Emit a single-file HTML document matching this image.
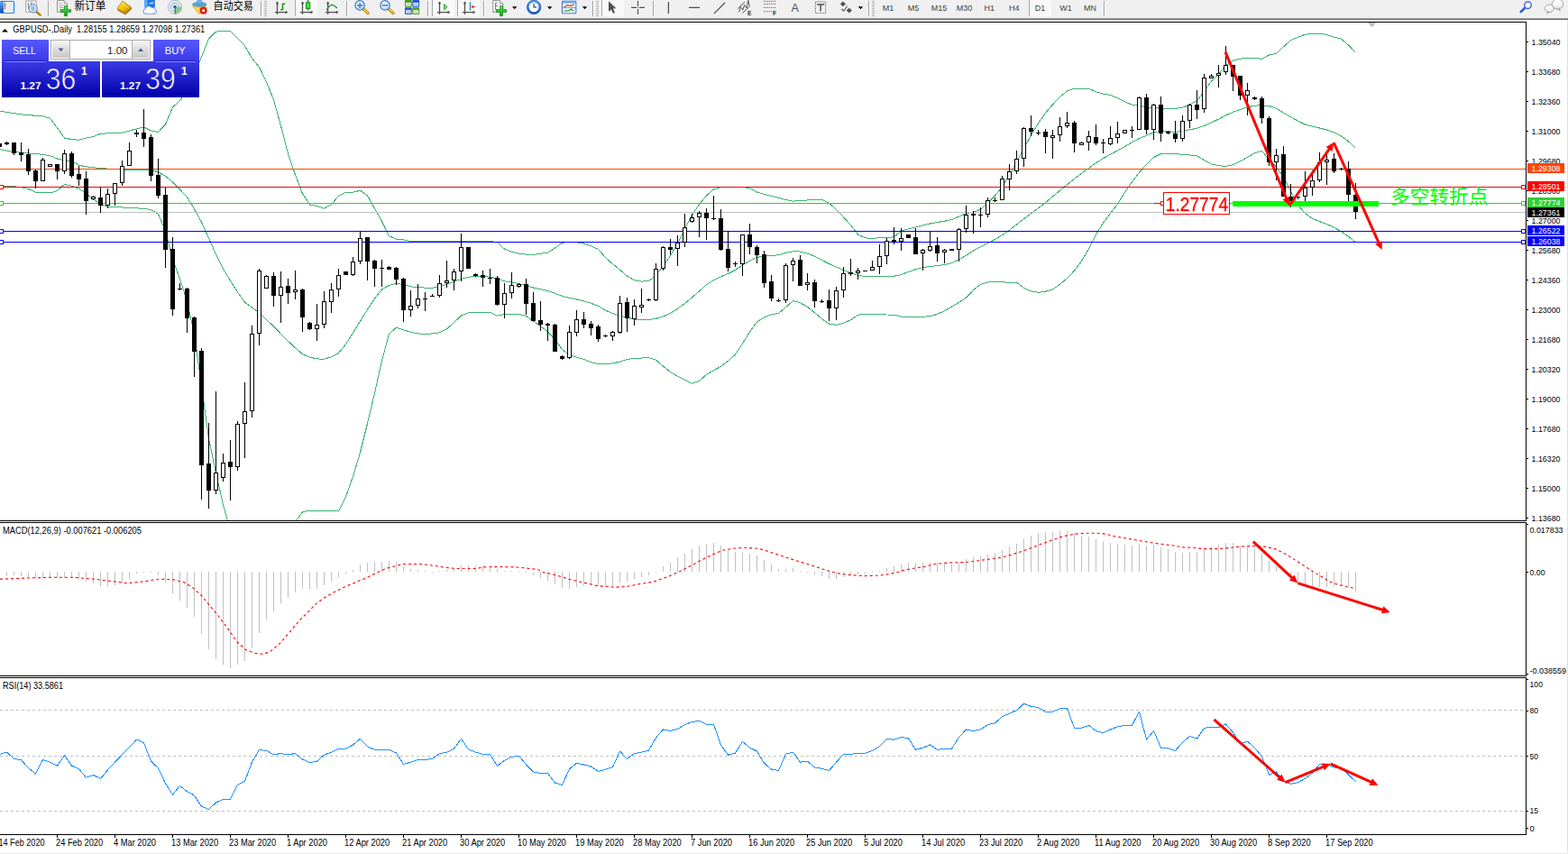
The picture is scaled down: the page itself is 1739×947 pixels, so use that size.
<!DOCTYPE html>
<html><head><meta charset="utf-8"><title>GBPUSD Daily</title>
<style>
html,body{margin:0;padding:0;background:#fff;}
body{width:1739px;height:947px;overflow:hidden;position:relative;font-family:"Liberation Sans",sans-serif;}
svg{position:absolute;left:0;top:0;display:block;}
svg text{font-family:"Liberation Sans",sans-serif;}
</style></head><body>
<svg width="1739" height="947" viewBox="0 0 1739 947">
<rect x="0" y="0" width="1739" height="947" fill="#fff"/>
<defs>
<linearGradient id="gb" x1="0" y1="0" x2="0" y2="1"><stop offset="0" stop-color="#5858ff"/><stop offset="0.38" stop-color="#3a3ae6"/><stop offset="1" stop-color="#0000aa"/></linearGradient>
<linearGradient id="gbu" gradientUnits="userSpaceOnUse" x1="0" y1="44" x2="0" y2="108"><stop offset="0" stop-color="#5858ff"/><stop offset="0.38" stop-color="#3a3ae6"/><stop offset="1" stop-color="#0000aa"/></linearGradient>
<linearGradient id="gbtn" x1="0" y1="0" x2="0" y2="1"><stop offset="0" stop-color="#f4f4f4"/><stop offset="0.5" stop-color="#dcdcdc"/><stop offset="1" stop-color="#c8c8c8"/></linearGradient>
<clipPath id="cmain"><rect x="0" y="25" width="1692" height="552"/></clipPath>
</defs>
<g clip-path="url(#cmain)">
<polyline points="0.0,123.2 7.5,124.5 15.5,125.7 23.5,126.8 31.5,127.7 39.5,128.2 47.5,128.9 55.5,131.2 63.5,141.7 71.5,153.0 79.5,154.6 87.5,155.2 95.5,153.1 103.5,151.6 111.5,148.2 119.5,147.9 127.5,147.7 135.5,147.1 143.5,145.2 151.5,142.8 159.5,141.1 167.5,144.9 175.5,146.4 183.5,137.8 191.5,119.0 199.5,111.6 207.5,100.9 215.5,83.8 223.5,62.9 231.5,43.0 239.5,35.2 247.5,34.4 255.5,34.4 263.5,42.3 271.5,50.8 279.5,64.7 287.5,74.4 295.5,91.0 303.5,110.5 311.5,139.5 319.5,170.3 327.5,194.0 335.5,214.7 343.5,227.0 351.5,228.5 359.5,231.1 367.5,226.7 375.5,217.3 383.5,213.4 391.5,213.2 399.5,211.3 407.5,216.9 415.5,231.3 423.5,245.4 431.5,261.8 439.5,265.1 447.5,265.9 455.5,267.5 463.5,267.7 471.5,267.8 479.5,267.9 487.5,267.9 495.5,267.9 503.5,267.9 511.5,267.8 519.5,267.7 527.5,267.6 535.5,267.5 543.5,267.4 551.5,268.7 559.5,276.1 567.5,279.3 575.5,281.1 583.5,282.1 591.5,282.3 599.5,281.3 607.5,280.1 615.5,275.1 623.5,269.2 631.5,268.5 639.5,268.8 647.5,270.0 655.5,272.8 663.5,276.4 671.5,285.5 679.5,292.7 687.5,299.2 695.5,306.1 703.5,310.8 711.5,312.1 719.5,311.7 727.5,305.0 735.5,295.2 743.5,283.5 751.5,269.9 759.5,254.1 767.5,238.5 775.5,226.7 783.5,216.9 791.5,209.9 799.5,207.6 807.5,207.6 815.5,207.6 823.5,207.6 831.5,208.6 839.5,213.0 847.5,215.5 855.5,217.4 863.5,219.3 871.5,221.6 879.5,223.1 887.5,222.7 895.5,222.0 903.5,221.6 911.5,221.4 919.5,225.2 927.5,232.4 935.5,240.8 943.5,249.5 951.5,260.2 959.5,263.8 967.5,264.4 975.5,263.7 983.5,263.8 991.5,262.6 999.5,256.1 1007.5,253.8 1015.5,251.8 1023.5,249.8 1031.5,248.0 1039.5,246.5 1047.5,245.2 1055.5,243.6 1063.5,240.1 1071.5,236.8 1079.5,235.1 1087.5,232.3 1095.5,224.8 1103.5,217.0 1111.5,207.2 1119.5,194.3 1127.5,179.7 1135.5,164.6 1143.5,150.1 1151.5,136.7 1159.5,125.5 1167.5,115.9 1175.5,107.4 1183.5,101.0 1191.5,98.2 1199.5,98.2 1207.5,98.2 1215.5,101.8 1223.5,104.1 1231.5,105.5 1239.5,108.6 1247.5,112.7 1255.5,116.4 1263.5,116.5 1271.5,119.0 1279.5,119.3 1287.5,120.0 1295.5,120.3 1303.5,120.3 1311.5,119.4 1319.5,115.7 1327.5,111.8 1335.5,101.0 1343.5,90.2 1351.5,82.4 1359.5,72.6 1367.5,67.2 1375.5,65.2 1383.5,64.4 1391.5,64.2 1399.5,65.3 1407.5,61.0 1415.5,59.2 1423.5,51.8 1431.5,44.7 1439.5,41.2 1447.5,38.3 1455.5,37.3 1463.5,37.2 1471.5,38.4 1479.5,41.2 1487.5,43.2 1495.5,50.0 1502.7,57.6" fill="none" stroke="#3cb371" stroke-width="1.0" stroke-linejoin="round" shape-rendering="crispEdges"/>
<polyline points="0.0,165.5 7.5,167.2 15.5,168.5 23.5,169.2 31.5,169.9 39.5,170.6 47.5,171.4 55.5,172.7 63.5,176.0 71.5,177.8 79.5,178.5 87.5,183.2 95.5,184.8 103.5,185.8 111.5,186.5 119.5,187.1 127.5,187.6 135.5,188.1 143.5,188.4 151.5,188.6 159.5,188.6 167.5,188.7 175.5,190.8 183.5,195.3 191.5,202.0 199.5,210.1 207.5,218.6 215.5,231.6 223.5,246.4 231.5,264.1 239.5,282.3 247.5,298.2 255.5,311.4 263.5,324.0 271.5,335.2 279.5,340.9 287.5,346.9 295.5,354.3 303.5,362.1 311.5,370.2 319.5,378.3 327.5,385.8 335.5,392.7 343.5,396.1 351.5,397.9 359.5,398.2 367.5,395.8 375.5,391.5 383.5,381.7 391.5,369.0 399.5,356.2 407.5,343.3 415.5,331.1 423.5,320.8 431.5,316.4 439.5,314.5 447.5,315.4 455.5,317.9 463.5,318.7 471.5,319.1 479.5,319.2 487.5,318.0 495.5,315.2 503.5,312.4 511.5,309.3 519.5,307.3 527.5,306.2 535.5,306.4 543.5,307.2 551.5,308.8 559.5,311.8 567.5,313.1 575.5,314.5 583.5,316.8 591.5,319.0 599.5,320.7 607.5,322.5 615.5,325.3 623.5,328.3 631.5,330.3 639.5,332.0 647.5,333.9 655.5,336.2 663.5,339.3 671.5,344.2 679.5,347.5 687.5,350.0 695.5,352.1 703.5,353.9 711.5,355.0 719.5,354.5 727.5,353.3 735.5,350.9 743.5,347.3 751.5,342.3 759.5,336.6 767.5,329.9 775.5,323.0 783.5,315.8 791.5,310.6 799.5,306.9 807.5,303.5 815.5,299.5 823.5,294.0 831.5,289.1 839.5,285.5 847.5,283.5 855.5,283.3 863.5,282.9 871.5,280.2 879.5,278.9 887.5,279.0 895.5,281.1 903.5,284.1 911.5,288.4 919.5,292.5 927.5,296.1 935.5,299.5 943.5,302.7 951.5,305.4 959.5,306.5 967.5,306.5 975.5,306.5 983.5,306.4 991.5,306.2 999.5,304.7 1007.5,301.4 1015.5,298.7 1023.5,296.7 1031.5,295.5 1039.5,294.6 1047.5,293.6 1055.5,291.7 1063.5,288.1 1071.5,283.3 1079.5,278.0 1087.5,273.8 1095.5,269.9 1103.5,265.4 1111.5,260.6 1119.5,255.2 1127.5,249.0 1135.5,242.7 1143.5,236.7 1151.5,230.8 1159.5,224.6 1167.5,217.9 1175.5,211.2 1183.5,204.7 1191.5,198.4 1199.5,192.3 1207.5,186.4 1215.5,180.6 1223.5,175.6 1231.5,171.2 1239.5,166.9 1247.5,162.7 1255.5,157.8 1263.5,153.5 1271.5,150.3 1279.5,146.6 1287.5,145.5 1295.5,145.7 1303.5,146.5 1311.5,145.4 1319.5,143.8 1327.5,142.2 1335.5,139.5 1343.5,135.9 1351.5,132.1 1359.5,127.9 1367.5,124.3 1375.5,121.4 1383.5,118.9 1391.5,117.1 1399.5,116.8 1407.5,117.7 1415.5,120.2 1423.5,125.2 1431.5,129.8 1439.5,134.1 1447.5,138.0 1455.5,140.2 1463.5,142.0 1471.5,144.0 1479.5,146.8 1487.5,150.9 1495.5,156.8 1502.8,163.8" fill="none" stroke="#3cb371" stroke-width="1.0" stroke-linejoin="round" shape-rendering="crispEdges"/>
<polyline points="0.0,206.5 7.5,206.6 15.5,206.8 23.5,207.6 31.5,209.6 39.5,213.2 47.5,214.0 55.5,213.9 63.5,211.6 71.5,204.4 79.5,206.1 87.5,209.2 95.5,214.5 103.5,220.8 111.5,226.6 119.5,229.2 127.5,229.7 135.5,230.0 143.5,230.3 151.5,230.8 159.5,231.4 167.5,232.5 175.5,237.4 183.5,255.7 191.5,287.5 199.5,309.1 207.5,334.5 215.5,370.3 223.5,428.1 231.5,486.3 239.5,524.5 247.5,560.0 252.6,578.0" fill="none" stroke="#3cb371" stroke-width="1.0" stroke-linejoin="round" shape-rendering="crispEdges"/>
<polyline points="327.7,578.0 335.5,567.9 343.5,566.0 351.5,566.0 359.5,566.0 367.5,566.0 375.5,567.0 383.5,550.8 391.5,528.3 399.5,501.6 407.5,469.5 415.5,436.2 423.5,400.1 431.5,370.3 439.5,363.2 447.5,365.8 455.5,368.2 463.5,369.9 471.5,370.4 479.5,369.9 487.5,368.8 495.5,364.8 503.5,357.7 511.5,350.0 519.5,346.9 527.5,346.4 535.5,346.4 543.5,346.4 551.5,350.1 559.5,348.5 567.5,348.5 575.5,348.5 583.5,350.4 591.5,356.1 599.5,361.7 607.5,367.8 615.5,376.1 623.5,387.6 631.5,393.3 639.5,396.2 647.5,398.5 655.5,401.6 663.5,403.7 671.5,403.5 679.5,402.9 687.5,401.1 695.5,398.6 703.5,397.2 711.5,397.1 719.5,396.3 727.5,399.3 735.5,406.1 743.5,412.5 751.5,417.2 759.5,421.2 767.5,425.2 775.5,422.4 783.5,415.3 791.5,410.7 799.5,406.3 807.5,400.3 815.5,393.0 823.5,381.0 831.5,368.1 839.5,357.1 847.5,351.8 855.5,348.8 863.5,347.4 871.5,340.7 879.5,333.5 887.5,335.8 895.5,340.3 903.5,346.7 911.5,353.5 919.5,359.1 927.5,360.3 935.5,358.3 943.5,354.7 951.5,349.2 959.5,348.2 967.5,348.2 975.5,348.8 983.5,349.0 991.5,349.1 999.5,351.1 1007.5,351.4 1015.5,351.2 1023.5,351.1 1031.5,350.9 1039.5,348.4 1047.5,344.8 1055.5,340.1 1063.5,335.4 1071.5,330.2 1079.5,321.7 1087.5,315.4 1095.5,313.1 1103.5,312.3 1111.5,312.8 1119.5,313.3 1127.5,313.3 1135.5,319.2 1143.5,323.0 1151.5,324.3 1159.5,323.3 1167.5,320.9 1175.5,315.4 1183.5,308.6 1191.5,300.1 1199.5,289.4 1207.5,276.0 1215.5,260.0 1223.5,247.1 1231.5,236.4 1239.5,226.2 1247.5,213.5 1255.5,201.7 1263.5,191.2 1271.5,182.5 1279.5,174.5 1287.5,170.5 1295.5,170.5 1303.5,170.6 1311.5,171.3 1319.5,172.0 1327.5,172.7 1335.5,177.7 1343.5,181.8 1351.5,183.7 1359.5,184.4 1367.5,182.8 1375.5,178.9 1383.5,174.2 1391.5,169.8 1399.5,167.2 1407.5,177.0 1415.5,185.2 1423.5,196.3 1431.5,211.9 1439.5,227.6 1447.5,236.5 1455.5,242.4 1463.5,245.6 1471.5,248.6 1479.5,252.3 1487.5,256.7 1495.5,262.3 1502.5,268.0" fill="none" stroke="#3cb371" stroke-width="1.0" stroke-linejoin="round" shape-rendering="crispEdges"/>
</g>
<g shape-rendering="crispEdges">
<rect x="0" y="187" width="1692" height="1" fill="#ff4500" />
<rect x="0" y="207" width="1692" height="1" fill="#ff0000" />
<rect x="0" y="225" width="1692" height="1" fill="#32cd32" />
<rect x="0" y="235" width="1692" height="1" fill="#c0c0c0" />
<rect x="0" y="256" width="1692" height="1" fill="#0000ff" />
<rect x="0" y="268" width="1692" height="1" fill="#0000ff" />
</g>
<g shape-rendering="crispEdges">
<rect x="-1" y="159" width="1" height="4" fill="#000" />
<rect x="-3" y="159" width="5" height="4" fill="#000" />
<rect x="7" y="157" width="1" height="4" fill="#000" />
<rect x="5" y="158" width="5" height="2" fill="#000" />
<rect x="15" y="158" width="1" height="14" fill="#000" />
<rect x="13" y="158" width="5" height="12" fill="#000" />
<rect x="23" y="158" width="1" height="21" fill="#000" />
<rect x="21" y="169" width="5" height="3" fill="#000" />
<rect x="31" y="165" width="1" height="29" fill="#000" />
<rect x="29" y="171" width="5" height="19" fill="#000" />
<rect x="39" y="188" width="1" height="21" fill="#000" />
<rect x="37" y="189" width="5" height="12" fill="#000" />
<rect x="47" y="175" width="1" height="26" fill="#000" />
<rect x="45" y="177" width="5" height="24" fill="#000" />
<rect x="46" y="178" width="3" height="22" fill="#fff" />
<rect x="55" y="182" width="1" height="3" fill="#000" />
<rect x="53" y="182" width="5" height="3" fill="#000" />
<rect x="54" y="183" width="3" height="1" fill="#fff" />
<rect x="63" y="182" width="1" height="17" fill="#000" />
<rect x="61" y="182" width="5" height="8" fill="#000" />
<rect x="71" y="166" width="1" height="27" fill="#000" />
<rect x="69" y="170" width="5" height="20" fill="#000" />
<rect x="70" y="171" width="3" height="18" fill="#fff" />
<rect x="79" y="168" width="1" height="29" fill="#000" />
<rect x="77" y="170" width="5" height="25" fill="#000" />
<rect x="87" y="184" width="1" height="22" fill="#000" />
<rect x="85" y="193" width="5" height="6" fill="#000" />
<rect x="95" y="190" width="1" height="48" fill="#000" />
<rect x="93" y="198" width="5" height="25" fill="#000" />
<rect x="103" y="217" width="1" height="5" fill="#000" />
<rect x="101" y="218" width="5" height="2" fill="#000" />
<rect x="101" y="218" width="5" height="3" fill="#000" />
<rect x="102" y="219" width="3" height="1" fill="#fff" />
<rect x="111" y="207" width="1" height="29" fill="#000" />
<rect x="109" y="219" width="5" height="9" fill="#000" />
<rect x="119" y="209" width="1" height="22" fill="#000" />
<rect x="117" y="215" width="5" height="13" fill="#000" />
<rect x="118" y="216" width="3" height="11" fill="#fff" />
<rect x="127" y="203" width="1" height="25" fill="#000" />
<rect x="125" y="203" width="5" height="12" fill="#000" />
<rect x="126" y="204" width="3" height="10" fill="#fff" />
<rect x="135" y="178" width="1" height="28" fill="#000" />
<rect x="133" y="184" width="5" height="19" fill="#000" />
<rect x="134" y="185" width="3" height="17" fill="#fff" />
<rect x="143" y="158" width="1" height="26" fill="#000" />
<rect x="141" y="167" width="5" height="17" fill="#000" />
<rect x="142" y="168" width="3" height="15" fill="#fff" />
<rect x="151" y="144" width="1" height="8" fill="#000" />
<rect x="149" y="147" width="5" height="2" fill="#000" />
<rect x="159" y="121" width="1" height="42" fill="#000" />
<rect x="157" y="147" width="5" height="7" fill="#000" />
<rect x="167" y="149" width="1" height="52" fill="#000" />
<rect x="165" y="152" width="5" height="43" fill="#000" />
<rect x="175" y="176" width="1" height="44" fill="#000" />
<rect x="173" y="194" width="5" height="23" fill="#000" />
<rect x="183" y="208" width="1" height="89" fill="#000" />
<rect x="181" y="216" width="5" height="61" fill="#000" />
<rect x="191" y="263" width="1" height="87" fill="#000" />
<rect x="189" y="276" width="5" height="67" fill="#000" />
<rect x="199" y="314" width="1" height="8" fill="#000" />
<rect x="197" y="320" width="5" height="1" fill="#000" />
<rect x="207" y="319" width="1" height="50" fill="#000" />
<rect x="205" y="320" width="5" height="33" fill="#000" />
<rect x="215" y="351" width="1" height="67" fill="#000" />
<rect x="213" y="352" width="5" height="38" fill="#000" />
<rect x="223" y="386" width="1" height="168" fill="#000" />
<rect x="221" y="389" width="5" height="127" fill="#000" />
<rect x="231" y="469" width="1" height="95" fill="#000" />
<rect x="229" y="514" width="5" height="30" fill="#000" />
<rect x="239" y="434" width="1" height="114" fill="#000" />
<rect x="237" y="524" width="5" height="20" fill="#000" />
<rect x="238" y="525" width="3" height="18" fill="#fff" />
<rect x="247" y="503" width="1" height="31" fill="#000" />
<rect x="245" y="513" width="5" height="17" fill="#000" />
<rect x="246" y="514" width="3" height="15" fill="#fff" />
<rect x="255" y="488" width="1" height="67" fill="#000" />
<rect x="253" y="512" width="5" height="6" fill="#000" />
<rect x="263" y="467" width="1" height="55" fill="#000" />
<rect x="261" y="470" width="5" height="48" fill="#000" />
<rect x="262" y="471" width="3" height="46" fill="#fff" />
<rect x="271" y="424" width="1" height="84" fill="#000" />
<rect x="269" y="456" width="5" height="14" fill="#000" />
<rect x="270" y="457" width="3" height="12" fill="#fff" />
<rect x="279" y="361" width="1" height="102" fill="#000" />
<rect x="277" y="370" width="5" height="86" fill="#000" />
<rect x="278" y="371" width="3" height="84" fill="#fff" />
<rect x="287" y="298" width="1" height="85" fill="#000" />
<rect x="285" y="300" width="5" height="70" fill="#000" />
<rect x="286" y="301" width="3" height="68" fill="#fff" />
<rect x="295" y="305" width="1" height="15" fill="#000" />
<rect x="293" y="306" width="5" height="14" fill="#000" />
<rect x="294" y="307" width="3" height="12" fill="#fff" />
<rect x="303" y="302" width="1" height="38" fill="#000" />
<rect x="301" y="306" width="5" height="22" fill="#000" />
<rect x="311" y="301" width="1" height="57" fill="#000" />
<rect x="309" y="318" width="5" height="10" fill="#000" />
<rect x="310" y="319" width="3" height="8" fill="#fff" />
<rect x="319" y="309" width="1" height="28" fill="#000" />
<rect x="317" y="317" width="5" height="8" fill="#000" />
<rect x="327" y="300" width="1" height="32" fill="#000" />
<rect x="325" y="321" width="5" height="3" fill="#000" />
<rect x="326" y="322" width="3" height="1" fill="#fff" />
<rect x="335" y="320" width="1" height="48" fill="#000" />
<rect x="333" y="321" width="5" height="31" fill="#000" />
<rect x="343" y="357" width="1" height="9" fill="#000" />
<rect x="341" y="358" width="5" height="7" fill="#000" />
<rect x="351" y="337" width="1" height="41" fill="#000" />
<rect x="349" y="360" width="5" height="5" fill="#000" />
<rect x="350" y="361" width="3" height="3" fill="#fff" />
<rect x="359" y="323" width="1" height="41" fill="#000" />
<rect x="357" y="334" width="5" height="26" fill="#000" />
<rect x="358" y="335" width="3" height="24" fill="#fff" />
<rect x="367" y="314" width="1" height="33" fill="#000" />
<rect x="365" y="321" width="5" height="14" fill="#000" />
<rect x="366" y="322" width="3" height="12" fill="#fff" />
<rect x="375" y="298" width="1" height="31" fill="#000" />
<rect x="373" y="305" width="5" height="16" fill="#000" />
<rect x="374" y="306" width="3" height="14" fill="#fff" />
<rect x="383" y="301" width="1" height="4" fill="#000" />
<rect x="381" y="301" width="5" height="4" fill="#000" />
<rect x="391" y="285" width="1" height="21" fill="#000" />
<rect x="389" y="290" width="5" height="15" fill="#000" />
<rect x="390" y="291" width="3" height="13" fill="#fff" />
<rect x="399" y="257" width="1" height="36" fill="#000" />
<rect x="397" y="264" width="5" height="26" fill="#000" />
<rect x="398" y="265" width="3" height="24" fill="#fff" />
<rect x="407" y="263" width="1" height="48" fill="#000" />
<rect x="405" y="263" width="5" height="27" fill="#000" />
<rect x="415" y="288" width="1" height="30" fill="#000" />
<rect x="413" y="289" width="5" height="9" fill="#000" />
<rect x="423" y="288" width="1" height="30" fill="#000" />
<rect x="421" y="297" width="5" height="1" fill="#000" />
<rect x="431" y="295" width="1" height="4" fill="#000" />
<rect x="429" y="296" width="5" height="3" fill="#000" />
<rect x="439" y="296" width="1" height="20" fill="#000" />
<rect x="437" y="297" width="5" height="13" fill="#000" />
<rect x="447" y="308" width="1" height="49" fill="#000" />
<rect x="445" y="309" width="5" height="35" fill="#000" />
<rect x="455" y="322" width="1" height="29" fill="#000" />
<rect x="453" y="339" width="5" height="5" fill="#000" />
<rect x="454" y="340" width="3" height="3" fill="#fff" />
<rect x="463" y="315" width="1" height="27" fill="#000" />
<rect x="461" y="331" width="5" height="8" fill="#000" />
<rect x="462" y="332" width="3" height="6" fill="#fff" />
<rect x="471" y="324" width="1" height="21" fill="#000" />
<rect x="469" y="331" width="5" height="1" fill="#000" />
<rect x="479" y="326" width="1" height="3" fill="#000" />
<rect x="477" y="328" width="5" height="1" fill="#000" />
<rect x="487" y="305" width="1" height="25" fill="#000" />
<rect x="485" y="314" width="5" height="14" fill="#000" />
<rect x="486" y="315" width="3" height="12" fill="#fff" />
<rect x="495" y="289" width="1" height="30" fill="#000" />
<rect x="493" y="311" width="5" height="3" fill="#000" />
<rect x="494" y="312" width="3" height="1" fill="#fff" />
<rect x="503" y="298" width="1" height="24" fill="#000" />
<rect x="501" y="301" width="5" height="10" fill="#000" />
<rect x="502" y="302" width="3" height="8" fill="#fff" />
<rect x="511" y="259" width="1" height="53" fill="#000" />
<rect x="509" y="274" width="5" height="27" fill="#000" />
<rect x="510" y="275" width="3" height="25" fill="#fff" />
<rect x="519" y="274" width="1" height="24" fill="#000" />
<rect x="517" y="274" width="5" height="24" fill="#000" />
<rect x="527" y="303" width="1" height="4" fill="#000" />
<rect x="525" y="304" width="5" height="2" fill="#000" />
<rect x="535" y="300" width="1" height="18" fill="#000" />
<rect x="533" y="305" width="5" height="3" fill="#000" />
<rect x="543" y="298" width="1" height="17" fill="#000" />
<rect x="541" y="308" width="5" height="1" fill="#000" />
<rect x="551" y="306" width="1" height="33" fill="#000" />
<rect x="549" y="308" width="5" height="30" fill="#000" />
<rect x="559" y="314" width="1" height="39" fill="#000" />
<rect x="557" y="325" width="5" height="13" fill="#000" />
<rect x="558" y="326" width="3" height="11" fill="#fff" />
<rect x="567" y="302" width="1" height="29" fill="#000" />
<rect x="565" y="316" width="5" height="9" fill="#000" />
<rect x="566" y="317" width="3" height="7" fill="#fff" />
<rect x="575" y="314" width="1" height="5" fill="#000" />
<rect x="573" y="315" width="5" height="3" fill="#000" />
<rect x="574" y="316" width="3" height="1" fill="#fff" />
<rect x="583" y="309" width="1" height="40" fill="#000" />
<rect x="581" y="315" width="5" height="22" fill="#000" />
<rect x="591" y="324" width="1" height="32" fill="#000" />
<rect x="589" y="336" width="5" height="20" fill="#000" />
<rect x="599" y="334" width="1" height="33" fill="#000" />
<rect x="597" y="355" width="5" height="5" fill="#000" />
<rect x="607" y="358" width="1" height="20" fill="#000" />
<rect x="605" y="359" width="5" height="2" fill="#000" />
<rect x="615" y="359" width="1" height="31" fill="#000" />
<rect x="613" y="360" width="5" height="30" fill="#000" />
<rect x="623" y="394" width="1" height="5" fill="#000" />
<rect x="621" y="395" width="5" height="3" fill="#000" />
<rect x="631" y="361" width="1" height="37" fill="#000" />
<rect x="629" y="368" width="5" height="29" fill="#000" />
<rect x="630" y="369" width="3" height="27" fill="#fff" />
<rect x="639" y="344" width="1" height="29" fill="#000" />
<rect x="637" y="354" width="5" height="15" fill="#000" />
<rect x="638" y="355" width="3" height="13" fill="#fff" />
<rect x="647" y="346" width="1" height="18" fill="#000" />
<rect x="645" y="354" width="5" height="6" fill="#000" />
<rect x="655" y="356" width="1" height="16" fill="#000" />
<rect x="653" y="359" width="5" height="5" fill="#000" />
<rect x="663" y="360" width="1" height="19" fill="#000" />
<rect x="661" y="362" width="5" height="14" fill="#000" />
<rect x="671" y="371" width="1" height="3" fill="#000" />
<rect x="669" y="372" width="5" height="1" fill="#000" />
<rect x="679" y="367" width="1" height="11" fill="#000" />
<rect x="677" y="368" width="5" height="5" fill="#000" />
<rect x="678" y="369" width="3" height="3" fill="#fff" />
<rect x="687" y="328" width="1" height="42" fill="#000" />
<rect x="685" y="336" width="5" height="33" fill="#000" />
<rect x="686" y="337" width="3" height="31" fill="#fff" />
<rect x="695" y="330" width="1" height="38" fill="#000" />
<rect x="693" y="335" width="5" height="18" fill="#000" />
<rect x="703" y="332" width="1" height="29" fill="#000" />
<rect x="701" y="339" width="5" height="15" fill="#000" />
<rect x="702" y="340" width="3" height="13" fill="#fff" />
<rect x="711" y="320" width="1" height="27" fill="#000" />
<rect x="709" y="338" width="5" height="2" fill="#000" />
<rect x="709" y="338" width="5" height="3" fill="#000" />
<rect x="710" y="339" width="3" height="1" fill="#fff" />
<rect x="719" y="331" width="1" height="3" fill="#000" />
<rect x="717" y="332" width="5" height="1" fill="#000" />
<rect x="727" y="292" width="1" height="42" fill="#000" />
<rect x="725" y="298" width="5" height="35" fill="#000" />
<rect x="726" y="299" width="3" height="33" fill="#fff" />
<rect x="735" y="273" width="1" height="27" fill="#000" />
<rect x="733" y="274" width="5" height="24" fill="#000" />
<rect x="734" y="275" width="3" height="22" fill="#fff" />
<rect x="743" y="265" width="1" height="17" fill="#000" />
<rect x="741" y="274" width="5" height="3" fill="#000" />
<rect x="751" y="261" width="1" height="34" fill="#000" />
<rect x="749" y="269" width="5" height="7" fill="#000" />
<rect x="750" y="270" width="3" height="5" fill="#fff" />
<rect x="759" y="237" width="1" height="37" fill="#000" />
<rect x="757" y="252" width="5" height="17" fill="#000" />
<rect x="758" y="253" width="3" height="15" fill="#fff" />
<rect x="767" y="237" width="1" height="10" fill="#000" />
<rect x="765" y="241" width="5" height="5" fill="#000" />
<rect x="766" y="242" width="3" height="3" fill="#fff" />
<rect x="775" y="234" width="1" height="29" fill="#000" />
<rect x="773" y="236" width="5" height="5" fill="#000" />
<rect x="774" y="237" width="3" height="3" fill="#fff" />
<rect x="783" y="231" width="1" height="35" fill="#000" />
<rect x="781" y="236" width="5" height="6" fill="#000" />
<rect x="791" y="217" width="1" height="27" fill="#000" />
<rect x="789" y="242" width="5" height="1" fill="#000" />
<rect x="799" y="232" width="1" height="46" fill="#000" />
<rect x="797" y="242" width="5" height="35" fill="#000" />
<rect x="807" y="256" width="1" height="45" fill="#000" />
<rect x="805" y="276" width="5" height="21" fill="#000" />
<rect x="815" y="290" width="1" height="6" fill="#000" />
<rect x="813" y="292" width="5" height="1" fill="#000" />
<rect x="823" y="260" width="1" height="46" fill="#000" />
<rect x="821" y="260" width="5" height="33" fill="#000" />
<rect x="822" y="261" width="3" height="31" fill="#fff" />
<rect x="831" y="248" width="1" height="34" fill="#000" />
<rect x="829" y="260" width="5" height="14" fill="#000" />
<rect x="839" y="272" width="1" height="20" fill="#000" />
<rect x="837" y="274" width="5" height="9" fill="#000" />
<rect x="847" y="278" width="1" height="41" fill="#000" />
<rect x="845" y="282" width="5" height="32" fill="#000" />
<rect x="855" y="305" width="1" height="29" fill="#000" />
<rect x="853" y="312" width="5" height="19" fill="#000" />
<rect x="863" y="331" width="1" height="4" fill="#000" />
<rect x="861" y="333" width="5" height="1" fill="#000" />
<rect x="871" y="292" width="1" height="44" fill="#000" />
<rect x="869" y="294" width="5" height="39" fill="#000" />
<rect x="870" y="295" width="3" height="37" fill="#fff" />
<rect x="879" y="286" width="1" height="26" fill="#000" />
<rect x="877" y="289" width="5" height="5" fill="#000" />
<rect x="878" y="290" width="3" height="3" fill="#fff" />
<rect x="887" y="283" width="1" height="34" fill="#000" />
<rect x="885" y="288" width="5" height="29" fill="#000" />
<rect x="895" y="303" width="1" height="19" fill="#000" />
<rect x="893" y="313" width="5" height="2" fill="#000" />
<rect x="893" y="313" width="5" height="3" fill="#000" />
<rect x="894" y="314" width="3" height="1" fill="#fff" />
<rect x="903" y="310" width="1" height="31" fill="#000" />
<rect x="901" y="313" width="5" height="21" fill="#000" />
<rect x="911" y="332" width="1" height="4" fill="#000" />
<rect x="909" y="334" width="5" height="1" fill="#000" />
<rect x="919" y="321" width="1" height="35" fill="#000" />
<rect x="917" y="333" width="5" height="9" fill="#000" />
<rect x="927" y="318" width="1" height="37" fill="#000" />
<rect x="925" y="322" width="5" height="20" fill="#000" />
<rect x="926" y="323" width="3" height="18" fill="#fff" />
<rect x="935" y="296" width="1" height="34" fill="#000" />
<rect x="933" y="303" width="5" height="19" fill="#000" />
<rect x="934" y="304" width="3" height="17" fill="#fff" />
<rect x="943" y="287" width="1" height="19" fill="#000" />
<rect x="941" y="302" width="5" height="2" fill="#000" />
<rect x="951" y="297" width="1" height="13" fill="#000" />
<rect x="949" y="300" width="5" height="2" fill="#000" />
<rect x="949" y="300" width="5" height="3" fill="#000" />
<rect x="950" y="301" width="3" height="1" fill="#fff" />
<rect x="959" y="300" width="1" height="1" fill="#000" />
<rect x="957" y="300" width="5" height="1" fill="#000" />
<rect x="967" y="289" width="1" height="11" fill="#000" />
<rect x="965" y="296" width="5" height="4" fill="#000" />
<rect x="966" y="297" width="3" height="2" fill="#fff" />
<rect x="975" y="271" width="1" height="33" fill="#000" />
<rect x="973" y="284" width="5" height="12" fill="#000" />
<rect x="974" y="285" width="3" height="10" fill="#fff" />
<rect x="983" y="264" width="1" height="29" fill="#000" />
<rect x="981" y="267" width="5" height="17" fill="#000" />
<rect x="982" y="268" width="3" height="15" fill="#fff" />
<rect x="991" y="252" width="1" height="19" fill="#000" />
<rect x="989" y="266" width="5" height="2" fill="#000" />
<rect x="999" y="253" width="1" height="25" fill="#000" />
<rect x="997" y="264" width="5" height="4" fill="#000" />
<rect x="998" y="265" width="3" height="2" fill="#fff" />
<rect x="1007" y="260" width="1" height="4" fill="#000" />
<rect x="1005" y="260" width="5" height="4" fill="#000" />
<rect x="1015" y="253" width="1" height="29" fill="#000" />
<rect x="1013" y="263" width="5" height="19" fill="#000" />
<rect x="1023" y="276" width="1" height="24" fill="#000" />
<rect x="1021" y="277" width="5" height="4" fill="#000" />
<rect x="1022" y="278" width="3" height="2" fill="#fff" />
<rect x="1031" y="257" width="1" height="22" fill="#000" />
<rect x="1029" y="273" width="5" height="5" fill="#000" />
<rect x="1030" y="274" width="3" height="3" fill="#fff" />
<rect x="1039" y="263" width="1" height="27" fill="#000" />
<rect x="1037" y="272" width="5" height="9" fill="#000" />
<rect x="1047" y="276" width="1" height="16" fill="#000" />
<rect x="1045" y="277" width="5" height="3" fill="#000" />
<rect x="1046" y="278" width="3" height="1" fill="#fff" />
<rect x="1055" y="276" width="1" height="2" fill="#000" />
<rect x="1053" y="276" width="5" height="2" fill="#000" />
<rect x="1063" y="253" width="1" height="37" fill="#000" />
<rect x="1061" y="254" width="5" height="23" fill="#000" />
<rect x="1062" y="255" width="3" height="21" fill="#fff" />
<rect x="1071" y="228" width="1" height="30" fill="#000" />
<rect x="1069" y="238" width="5" height="16" fill="#000" />
<rect x="1070" y="239" width="3" height="14" fill="#fff" />
<rect x="1079" y="234" width="1" height="25" fill="#000" />
<rect x="1077" y="237" width="5" height="2" fill="#000" />
<rect x="1087" y="230" width="1" height="22" fill="#000" />
<rect x="1085" y="238" width="5" height="1" fill="#000" />
<rect x="1095" y="219" width="1" height="22" fill="#000" />
<rect x="1093" y="222" width="5" height="16" fill="#000" />
<rect x="1094" y="223" width="3" height="14" fill="#fff" />
<rect x="1103" y="219" width="1" height="5" fill="#000" />
<rect x="1101" y="222" width="5" height="1" fill="#000" />
<rect x="1111" y="195" width="1" height="27" fill="#000" />
<rect x="1109" y="198" width="5" height="24" fill="#000" />
<rect x="1110" y="199" width="3" height="22" fill="#fff" />
<rect x="1119" y="182" width="1" height="29" fill="#000" />
<rect x="1117" y="190" width="5" height="9" fill="#000" />
<rect x="1118" y="191" width="3" height="7" fill="#fff" />
<rect x="1127" y="167" width="1" height="26" fill="#000" />
<rect x="1125" y="176" width="5" height="14" fill="#000" />
<rect x="1126" y="177" width="3" height="12" fill="#fff" />
<rect x="1135" y="141" width="1" height="44" fill="#000" />
<rect x="1133" y="142" width="5" height="34" fill="#000" />
<rect x="1134" y="143" width="3" height="32" fill="#fff" />
<rect x="1143" y="128" width="1" height="23" fill="#000" />
<rect x="1141" y="142" width="5" height="4" fill="#000" />
<rect x="1151" y="144" width="1" height="6" fill="#000" />
<rect x="1149" y="147" width="5" height="1" fill="#000" />
<rect x="1159" y="143" width="1" height="27" fill="#000" />
<rect x="1157" y="146" width="5" height="6" fill="#000" />
<rect x="1167" y="144" width="1" height="32" fill="#000" />
<rect x="1165" y="150" width="5" height="2" fill="#000" />
<rect x="1165" y="150" width="5" height="3" fill="#000" />
<rect x="1166" y="151" width="3" height="1" fill="#fff" />
<rect x="1175" y="130" width="1" height="27" fill="#000" />
<rect x="1173" y="140" width="5" height="10" fill="#000" />
<rect x="1174" y="141" width="3" height="8" fill="#fff" />
<rect x="1183" y="124" width="1" height="18" fill="#000" />
<rect x="1181" y="136" width="5" height="4" fill="#000" />
<rect x="1182" y="137" width="3" height="2" fill="#fff" />
<rect x="1191" y="134" width="1" height="35" fill="#000" />
<rect x="1189" y="136" width="5" height="23" fill="#000" />
<rect x="1199" y="157" width="1" height="4" fill="#000" />
<rect x="1197" y="158" width="5" height="3" fill="#000" />
<rect x="1198" y="159" width="3" height="1" fill="#fff" />
<rect x="1207" y="145" width="1" height="22" fill="#000" />
<rect x="1205" y="151" width="5" height="7" fill="#000" />
<rect x="1206" y="152" width="3" height="5" fill="#fff" />
<rect x="1215" y="138" width="1" height="23" fill="#000" />
<rect x="1213" y="152" width="5" height="7" fill="#000" />
<rect x="1223" y="154" width="1" height="16" fill="#000" />
<rect x="1221" y="158" width="5" height="1" fill="#000" />
<rect x="1231" y="140" width="1" height="21" fill="#000" />
<rect x="1229" y="153" width="5" height="7" fill="#000" />
<rect x="1230" y="154" width="3" height="5" fill="#fff" />
<rect x="1239" y="135" width="1" height="24" fill="#000" />
<rect x="1237" y="148" width="5" height="5" fill="#000" />
<rect x="1238" y="149" width="3" height="3" fill="#fff" />
<rect x="1247" y="144" width="1" height="4" fill="#000" />
<rect x="1245" y="144" width="5" height="4" fill="#000" />
<rect x="1246" y="145" width="3" height="2" fill="#fff" />
<rect x="1255" y="140" width="1" height="13" fill="#000" />
<rect x="1253" y="144" width="5" height="1" fill="#000" />
<rect x="1263" y="107" width="1" height="37" fill="#000" />
<rect x="1261" y="108" width="5" height="36" fill="#000" />
<rect x="1262" y="109" width="3" height="34" fill="#fff" />
<rect x="1271" y="104" width="1" height="45" fill="#000" />
<rect x="1269" y="108" width="5" height="36" fill="#000" />
<rect x="1279" y="115" width="1" height="40" fill="#000" />
<rect x="1277" y="116" width="5" height="28" fill="#000" />
<rect x="1278" y="117" width="3" height="26" fill="#fff" />
<rect x="1287" y="107" width="1" height="50" fill="#000" />
<rect x="1285" y="116" width="5" height="32" fill="#000" />
<rect x="1295" y="145" width="1" height="4" fill="#000" />
<rect x="1293" y="146" width="5" height="2" fill="#000" />
<rect x="1303" y="134" width="1" height="24" fill="#000" />
<rect x="1301" y="148" width="5" height="6" fill="#000" />
<rect x="1311" y="128" width="1" height="29" fill="#000" />
<rect x="1309" y="134" width="5" height="20" fill="#000" />
<rect x="1310" y="135" width="3" height="18" fill="#fff" />
<rect x="1319" y="115" width="1" height="27" fill="#000" />
<rect x="1317" y="116" width="5" height="18" fill="#000" />
<rect x="1318" y="117" width="3" height="16" fill="#fff" />
<rect x="1327" y="100" width="1" height="32" fill="#000" />
<rect x="1325" y="116" width="5" height="6" fill="#000" />
<rect x="1335" y="82" width="1" height="43" fill="#000" />
<rect x="1333" y="86" width="5" height="35" fill="#000" />
<rect x="1334" y="87" width="3" height="33" fill="#fff" />
<rect x="1343" y="82" width="1" height="4" fill="#000" />
<rect x="1341" y="84" width="5" height="2" fill="#000" />
<rect x="1341" y="84" width="5" height="3" fill="#000" />
<rect x="1342" y="85" width="3" height="1" fill="#fff" />
<rect x="1351" y="72" width="1" height="25" fill="#000" />
<rect x="1349" y="81" width="5" height="3" fill="#000" />
<rect x="1350" y="82" width="3" height="1" fill="#fff" />
<rect x="1359" y="51" width="1" height="32" fill="#000" />
<rect x="1357" y="72" width="5" height="8" fill="#000" />
<rect x="1358" y="73" width="3" height="6" fill="#fff" />
<rect x="1367" y="72" width="1" height="29" fill="#000" />
<rect x="1365" y="72" width="5" height="13" fill="#000" />
<rect x="1375" y="84" width="1" height="27" fill="#000" />
<rect x="1373" y="84" width="5" height="22" fill="#000" />
<rect x="1383" y="92" width="1" height="36" fill="#000" />
<rect x="1381" y="100" width="5" height="6" fill="#000" />
<rect x="1382" y="101" width="3" height="4" fill="#fff" />
<rect x="1391" y="107" width="1" height="4" fill="#000" />
<rect x="1389" y="108" width="5" height="2" fill="#000" />
<rect x="1399" y="107" width="1" height="30" fill="#000" />
<rect x="1397" y="109" width="5" height="22" fill="#000" />
<rect x="1407" y="129" width="1" height="55" fill="#000" />
<rect x="1405" y="131" width="5" height="49" fill="#000" />
<rect x="1415" y="165" width="1" height="35" fill="#000" />
<rect x="1413" y="172" width="5" height="8" fill="#000" />
<rect x="1414" y="173" width="3" height="6" fill="#fff" />
<rect x="1423" y="162" width="1" height="56" fill="#000" />
<rect x="1421" y="171" width="5" height="47" fill="#000" />
<rect x="1431" y="204" width="1" height="26" fill="#000" />
<rect x="1429" y="218" width="5" height="6" fill="#000" />
<rect x="1439" y="218" width="1" height="3" fill="#000" />
<rect x="1437" y="218" width="5" height="1" fill="#000" />
<rect x="1447" y="190" width="1" height="33" fill="#000" />
<rect x="1445" y="208" width="5" height="10" fill="#000" />
<rect x="1446" y="209" width="3" height="8" fill="#fff" />
<rect x="1455" y="189" width="1" height="28" fill="#000" />
<rect x="1453" y="200" width="5" height="8" fill="#000" />
<rect x="1454" y="201" width="3" height="6" fill="#fff" />
<rect x="1463" y="169" width="1" height="33" fill="#000" />
<rect x="1461" y="180" width="5" height="20" fill="#000" />
<rect x="1462" y="181" width="3" height="18" fill="#fff" />
<rect x="1471" y="171" width="1" height="34" fill="#000" />
<rect x="1469" y="177" width="5" height="3" fill="#000" />
<rect x="1470" y="178" width="3" height="1" fill="#fff" />
<rect x="1479" y="170" width="1" height="22" fill="#000" />
<rect x="1477" y="176" width="5" height="14" fill="#000" />
<rect x="1487" y="186" width="1" height="3" fill="#000" />
<rect x="1485" y="187" width="5" height="1" fill="#000" />
<rect x="1495" y="179" width="1" height="44" fill="#000" />
<rect x="1493" y="187" width="5" height="29" fill="#000" />
<rect x="1503" y="203" width="1" height="40" fill="#000" />
<rect x="1501" y="216" width="5" height="19" fill="#000" />
<rect x="-1" y="205" width="5" height="5" fill="#ff0000" />
<rect x="0" y="206" width="3" height="3" fill="#fff" />
<rect x="1687" y="205" width="5" height="5" fill="#ff0000" />
<rect x="1688" y="206" width="3" height="3" fill="#fff" />
<rect x="-1" y="223" width="5" height="5" fill="#32cd32" />
<rect x="0" y="224" width="3" height="3" fill="#fff" />
<rect x="1687" y="223" width="5" height="5" fill="#32cd32" />
<rect x="1688" y="224" width="3" height="3" fill="#fff" />
<rect x="-1" y="254" width="5" height="5" fill="#0000ff" />
<rect x="0" y="255" width="3" height="3" fill="#fff" />
<rect x="1687" y="254" width="5" height="5" fill="#0000ff" />
<rect x="1688" y="255" width="3" height="3" fill="#fff" />
<rect x="-1" y="266" width="5" height="5" fill="#0000ff" />
<rect x="0" y="267" width="3" height="3" fill="#fff" />
<rect x="1687" y="266" width="5" height="5" fill="#0000ff" />
<rect x="1688" y="267" width="3" height="3" fill="#fff" />
</g>
<g shape-rendering="crispEdges">
<rect x="1367" y="223" width="162" height="6" fill="#00ff00" />
<rect x="1280" y="225" width="10" height="1" fill="#ff0000" />
<rect x="1287" y="223" width="3" height="5" fill="#ff0000" />
<rect x="1288" y="224" width="2" height="3" fill="#fff" />
<rect x="1290" y="213" width="74" height="25" fill="#ff0000" />
<rect x="1291" y="214" width="72" height="23" fill="#fff" />
</g>
<text x="1292.7" y="233.8" font-size="22" fill="#ff0000" textLength="69.5" lengthAdjust="spacingAndGlyphs" stroke="#ff0000" stroke-width="0.3">1.27774</text>
<text x="1542" y="224.5" font-size="21" fill="#00ff00" textLength="108.5" lengthAdjust="spacingAndGlyphs" style="font-family:'Liberation Sans','Noto Sans CJK SC',sans-serif;">多空转折点</text>
<g shape-rendering="crispEdges">
<rect x="7" y="634" width="1" height="5" fill="#c0c0c0" />
<rect x="15" y="634" width="1" height="4" fill="#c0c0c0" />
<rect x="23" y="634" width="1" height="5" fill="#c0c0c0" />
<rect x="31" y="634" width="1" height="6" fill="#c0c0c0" />
<rect x="39" y="634" width="1" height="7" fill="#c0c0c0" />
<rect x="47" y="634" width="1" height="7" fill="#c0c0c0" />
<rect x="55" y="634" width="1" height="7" fill="#c0c0c0" />
<rect x="63" y="634" width="1" height="7" fill="#c0c0c0" />
<rect x="71" y="634" width="1" height="7" fill="#c0c0c0" />
<rect x="79" y="634" width="1" height="7" fill="#c0c0c0" />
<rect x="87" y="634" width="1" height="8" fill="#c0c0c0" />
<rect x="95" y="634" width="1" height="11" fill="#c0c0c0" />
<rect x="103" y="634" width="1" height="13" fill="#c0c0c0" />
<rect x="111" y="634" width="1" height="16" fill="#c0c0c0" />
<rect x="119" y="634" width="1" height="16" fill="#c0c0c0" />
<rect x="127" y="634" width="1" height="15" fill="#c0c0c0" />
<rect x="135" y="634" width="1" height="12" fill="#c0c0c0" />
<rect x="143" y="634" width="1" height="8" fill="#c0c0c0" />
<rect x="151" y="634" width="1" height="2" fill="#c0c0c0" />
<rect x="159" y="634" width="1" height="1" fill="#c0c0c0" />
<rect x="167" y="634" width="1" height="1" fill="#c0c0c0" />
<rect x="175" y="634" width="1" height="4" fill="#c0c0c0" />
<rect x="183" y="634" width="1" height="12" fill="#c0c0c0" />
<rect x="191" y="634" width="1" height="24" fill="#c0c0c0" />
<rect x="199" y="634" width="1" height="32" fill="#c0c0c0" />
<rect x="207" y="634" width="1" height="40" fill="#c0c0c0" />
<rect x="215" y="634" width="1" height="50" fill="#c0c0c0" />
<rect x="223" y="634" width="1" height="69" fill="#c0c0c0" />
<rect x="231" y="634" width="1" height="86" fill="#c0c0c0" />
<rect x="239" y="634" width="1" height="97" fill="#c0c0c0" />
<rect x="247" y="634" width="1" height="103" fill="#c0c0c0" />
<rect x="255" y="634" width="1" height="107" fill="#c0c0c0" />
<rect x="263" y="634" width="1" height="103" fill="#c0c0c0" />
<rect x="271" y="634" width="1" height="99" fill="#c0c0c0" />
<rect x="279" y="634" width="1" height="85" fill="#c0c0c0" />
<rect x="287" y="634" width="1" height="68" fill="#c0c0c0" />
<rect x="295" y="634" width="1" height="54" fill="#c0c0c0" />
<rect x="303" y="634" width="1" height="44" fill="#c0c0c0" />
<rect x="311" y="634" width="1" height="35" fill="#c0c0c0" />
<rect x="319" y="634" width="1" height="29" fill="#c0c0c0" />
<rect x="327" y="634" width="1" height="23" fill="#c0c0c0" />
<rect x="335" y="634" width="1" height="19" fill="#c0c0c0" />
<rect x="343" y="634" width="1" height="19" fill="#c0c0c0" />
<rect x="351" y="634" width="1" height="19" fill="#c0c0c0" />
<rect x="359" y="634" width="1" height="15" fill="#c0c0c0" />
<rect x="367" y="634" width="1" height="11" fill="#c0c0c0" />
<rect x="375" y="634" width="1" height="6" fill="#c0c0c0" />
<rect x="383" y="634" width="1" height="2" fill="#c0c0c0" />
<rect x="391" y="632" width="1" height="2" fill="#c0c0c0" />
<rect x="399" y="626" width="1" height="8" fill="#c0c0c0" />
<rect x="407" y="624" width="1" height="10" fill="#c0c0c0" />
<rect x="415" y="623" width="1" height="11" fill="#c0c0c0" />
<rect x="423" y="623" width="1" height="11" fill="#c0c0c0" />
<rect x="431" y="622" width="1" height="12" fill="#c0c0c0" />
<rect x="439" y="623" width="1" height="11" fill="#c0c0c0" />
<rect x="447" y="628" width="1" height="6" fill="#c0c0c0" />
<rect x="455" y="631" width="1" height="3" fill="#c0c0c0" />
<rect x="463" y="632" width="1" height="2" fill="#c0c0c0" />
<rect x="471" y="633" width="1" height="1" fill="#c0c0c0" />
<rect x="479" y="634" width="1" height="1" fill="#c0c0c0" />
<rect x="487" y="633" width="1" height="1" fill="#c0c0c0" />
<rect x="495" y="632" width="1" height="2" fill="#c0c0c0" />
<rect x="503" y="630" width="1" height="4" fill="#c0c0c0" />
<rect x="511" y="627" width="1" height="7" fill="#c0c0c0" />
<rect x="519" y="627" width="1" height="7" fill="#c0c0c0" />
<rect x="527" y="627" width="1" height="7" fill="#c0c0c0" />
<rect x="535" y="627" width="1" height="7" fill="#c0c0c0" />
<rect x="543" y="630" width="1" height="4" fill="#c0c0c0" />
<rect x="551" y="631" width="1" height="3" fill="#c0c0c0" />
<rect x="559" y="633" width="1" height="1" fill="#c0c0c0" />
<rect x="567" y="633" width="1" height="1" fill="#c0c0c0" />
<rect x="575" y="633" width="1" height="1" fill="#c0c0c0" />
<rect x="583" y="634" width="1" height="1" fill="#c0c0c0" />
<rect x="591" y="634" width="1" height="4" fill="#c0c0c0" />
<rect x="599" y="634" width="1" height="7" fill="#c0c0c0" />
<rect x="607" y="634" width="1" height="10" fill="#c0c0c0" />
<rect x="615" y="634" width="1" height="14" fill="#c0c0c0" />
<rect x="623" y="634" width="1" height="18" fill="#c0c0c0" />
<rect x="631" y="634" width="1" height="19" fill="#c0c0c0" />
<rect x="639" y="634" width="1" height="17" fill="#c0c0c0" />
<rect x="647" y="634" width="1" height="16" fill="#c0c0c0" />
<rect x="655" y="634" width="1" height="15" fill="#c0c0c0" />
<rect x="663" y="634" width="1" height="16" fill="#c0c0c0" />
<rect x="671" y="634" width="1" height="16" fill="#c0c0c0" />
<rect x="679" y="634" width="1" height="16" fill="#c0c0c0" />
<rect x="687" y="634" width="1" height="12" fill="#c0c0c0" />
<rect x="695" y="634" width="1" height="11" fill="#c0c0c0" />
<rect x="703" y="634" width="1" height="8" fill="#c0c0c0" />
<rect x="711" y="634" width="1" height="6" fill="#c0c0c0" />
<rect x="719" y="634" width="1" height="4" fill="#c0c0c0" />
<rect x="727" y="634" width="1" height="1" fill="#c0c0c0" />
<rect x="735" y="628" width="1" height="6" fill="#c0c0c0" />
<rect x="743" y="624" width="1" height="10" fill="#c0c0c0" />
<rect x="751" y="618" width="1" height="16" fill="#c0c0c0" />
<rect x="759" y="614" width="1" height="20" fill="#c0c0c0" />
<rect x="767" y="609" width="1" height="25" fill="#c0c0c0" />
<rect x="775" y="605" width="1" height="29" fill="#c0c0c0" />
<rect x="783" y="603" width="1" height="31" fill="#c0c0c0" />
<rect x="791" y="602" width="1" height="32" fill="#c0c0c0" />
<rect x="799" y="605" width="1" height="29" fill="#c0c0c0" />
<rect x="807" y="609" width="1" height="25" fill="#c0c0c0" />
<rect x="815" y="612" width="1" height="22" fill="#c0c0c0" />
<rect x="823" y="612" width="1" height="22" fill="#c0c0c0" />
<rect x="831" y="614" width="1" height="20" fill="#c0c0c0" />
<rect x="839" y="616" width="1" height="18" fill="#c0c0c0" />
<rect x="847" y="621" width="1" height="13" fill="#c0c0c0" />
<rect x="855" y="626" width="1" height="8" fill="#c0c0c0" />
<rect x="863" y="631" width="1" height="3" fill="#c0c0c0" />
<rect x="871" y="631" width="1" height="3" fill="#c0c0c0" />
<rect x="879" y="630" width="1" height="4" fill="#c0c0c0" />
<rect x="887" y="633" width="1" height="1" fill="#c0c0c0" />
<rect x="895" y="634" width="1" height="1" fill="#c0c0c0" />
<rect x="903" y="634" width="1" height="3" fill="#c0c0c0" />
<rect x="911" y="634" width="1" height="5" fill="#c0c0c0" />
<rect x="919" y="634" width="1" height="8" fill="#c0c0c0" />
<rect x="927" y="634" width="1" height="8" fill="#c0c0c0" />
<rect x="935" y="634" width="1" height="6" fill="#c0c0c0" />
<rect x="943" y="634" width="1" height="4" fill="#c0c0c0" />
<rect x="951" y="634" width="1" height="3" fill="#c0c0c0" />
<rect x="959" y="634" width="1" height="2" fill="#c0c0c0" />
<rect x="967" y="634" width="1" height="1" fill="#c0c0c0" />
<rect x="975" y="633" width="1" height="1" fill="#c0c0c0" />
<rect x="983" y="630" width="1" height="4" fill="#c0c0c0" />
<rect x="991" y="628" width="1" height="6" fill="#c0c0c0" />
<rect x="999" y="626" width="1" height="8" fill="#c0c0c0" />
<rect x="1007" y="624" width="1" height="10" fill="#c0c0c0" />
<rect x="1015" y="624" width="1" height="10" fill="#c0c0c0" />
<rect x="1023" y="624" width="1" height="10" fill="#c0c0c0" />
<rect x="1031" y="624" width="1" height="10" fill="#c0c0c0" />
<rect x="1039" y="624" width="1" height="10" fill="#c0c0c0" />
<rect x="1047" y="625" width="1" height="9" fill="#c0c0c0" />
<rect x="1055" y="626" width="1" height="8" fill="#c0c0c0" />
<rect x="1063" y="624" width="1" height="10" fill="#c0c0c0" />
<rect x="1071" y="620" width="1" height="14" fill="#c0c0c0" />
<rect x="1079" y="618" width="1" height="16" fill="#c0c0c0" />
<rect x="1087" y="617" width="1" height="17" fill="#c0c0c0" />
<rect x="1095" y="615" width="1" height="19" fill="#c0c0c0" />
<rect x="1103" y="613" width="1" height="21" fill="#c0c0c0" />
<rect x="1111" y="610" width="1" height="24" fill="#c0c0c0" />
<rect x="1119" y="606" width="1" height="28" fill="#c0c0c0" />
<rect x="1127" y="603" width="1" height="31" fill="#c0c0c0" />
<rect x="1135" y="597" width="1" height="37" fill="#c0c0c0" />
<rect x="1143" y="594" width="1" height="40" fill="#c0c0c0" />
<rect x="1151" y="591" width="1" height="43" fill="#c0c0c0" />
<rect x="1159" y="590" width="1" height="44" fill="#c0c0c0" />
<rect x="1167" y="590" width="1" height="44" fill="#c0c0c0" />
<rect x="1175" y="589" width="1" height="45" fill="#c0c0c0" />
<rect x="1183" y="589" width="1" height="45" fill="#c0c0c0" />
<rect x="1191" y="591" width="1" height="43" fill="#c0c0c0" />
<rect x="1199" y="594" width="1" height="40" fill="#c0c0c0" />
<rect x="1207" y="595" width="1" height="39" fill="#c0c0c0" />
<rect x="1215" y="598" width="1" height="36" fill="#c0c0c0" />
<rect x="1223" y="600" width="1" height="34" fill="#c0c0c0" />
<rect x="1231" y="602" width="1" height="32" fill="#c0c0c0" />
<rect x="1239" y="603" width="1" height="31" fill="#c0c0c0" />
<rect x="1247" y="604" width="1" height="30" fill="#c0c0c0" />
<rect x="1255" y="605" width="1" height="29" fill="#c0c0c0" />
<rect x="1263" y="603" width="1" height="31" fill="#c0c0c0" />
<rect x="1271" y="605" width="1" height="29" fill="#c0c0c0" />
<rect x="1279" y="604" width="1" height="30" fill="#c0c0c0" />
<rect x="1287" y="607" width="1" height="27" fill="#c0c0c0" />
<rect x="1295" y="609" width="1" height="25" fill="#c0c0c0" />
<rect x="1303" y="612" width="1" height="22" fill="#c0c0c0" />
<rect x="1311" y="613" width="1" height="21" fill="#c0c0c0" />
<rect x="1319" y="612" width="1" height="22" fill="#c0c0c0" />
<rect x="1327" y="612" width="1" height="22" fill="#c0c0c0" />
<rect x="1335" y="609" width="1" height="25" fill="#c0c0c0" />
<rect x="1343" y="606" width="1" height="28" fill="#c0c0c0" />
<rect x="1351" y="604" width="1" height="30" fill="#c0c0c0" />
<rect x="1359" y="602" width="1" height="32" fill="#c0c0c0" />
<rect x="1367" y="602" width="1" height="32" fill="#c0c0c0" />
<rect x="1375" y="605" width="1" height="29" fill="#c0c0c0" />
<rect x="1383" y="606" width="1" height="28" fill="#c0c0c0" />
<rect x="1391" y="609" width="1" height="25" fill="#c0c0c0" />
<rect x="1399" y="613" width="1" height="21" fill="#c0c0c0" />
<rect x="1407" y="622" width="1" height="12" fill="#c0c0c0" />
<rect x="1415" y="628" width="1" height="6" fill="#c0c0c0" />
<rect x="1423" y="633" width="1" height="1" fill="#c0c0c0" />
<rect x="1431" y="634" width="1" height="6" fill="#c0c0c0" />
<rect x="1439" y="634" width="1" height="11" fill="#c0c0c0" />
<rect x="1447" y="634" width="1" height="14" fill="#c0c0c0" />
<rect x="1455" y="634" width="1" height="16" fill="#c0c0c0" />
<rect x="1463" y="634" width="1" height="17" fill="#c0c0c0" />
<rect x="1471" y="634" width="1" height="17" fill="#c0c0c0" />
<rect x="1479" y="634" width="1" height="16" fill="#c0c0c0" />
<rect x="1487" y="634" width="1" height="16" fill="#c0c0c0" />
<rect x="1495" y="634" width="1" height="17" fill="#c0c0c0" />
<rect x="1503" y="634" width="1" height="22" fill="#c0c0c0" />
</g>
<polyline points="0.0,642.2 30.3,641.0 60.5,640.2 80.7,640.2 104.9,642.2 121.0,644.2 141.2,646.7 161.4,644.6 175.5,642.2 191.6,642.6 203.8,645.6 213.8,651.7 223.9,660.8 232.0,670.9 242.1,683.0 254.2,699.1 262.3,711.2 272.3,720.3 282.4,724.3 290.5,725.3 298.6,723.3 310.7,713.2 322.8,699.1 334.9,685.0 340.0,680.5 350.2,669.9 358.2,663.8 370.3,656.7 382.5,650.7 394.6,645.6 406.7,640.6 416.7,635.6 428.9,630.1 438.9,627.5 447.0,625.5 467.2,625.5 483.3,627.5 491.4,628.9 505.5,630.5 527.7,630.5 535.8,628.9 551.9,628.5 572.1,628.9 584.2,630.1 596.3,631.5 602.3,634.6 612.4,636.6 622.5,639.6 632.6,642.6 640.7,644.6 652.8,647.3 662.9,649.7 677.0,650.7 680.2,651.3 696.3,650.3 708.4,647.7 724.6,645.2 740.7,639.6 752.8,634.2 764.9,628.1 777.0,621.4 789.1,615.4 801.2,610.3 813.3,608.3 825.4,607.3 841.6,608.3 853.7,612.0 869.8,617.4 881.9,621.4 894.0,624.9 906.1,628.9 918.2,632.9 928.3,635.6 942.4,637.6 958.6,638.6 974.7,638.2 986.8,636.6 998.9,633.5 1006.1,631.5 1024.3,628.5 1036.4,625.5 1052.5,623.9 1070.7,623.5 1082.8,622.0 1094.9,620.4 1109.0,618.4 1121.1,615.4 1133.2,611.4 1143.3,607.7 1155.4,602.9 1167.5,598.6 1179.6,594.6 1191.7,592.2 1203.8,591.2 1215.9,591.2 1226.0,592.2 1238.1,595.2 1252.3,597.6 1268.4,600.3 1280.5,602.3 1298.7,604.7 1312.8,606.9 1321.2,607.3 1334.5,608.6 1351.3,608.6 1365.8,607.3 1375.4,606.1 1392.3,605.4 1401.9,606.1 1414.0,608.6 1426.0,614.6 1435.7,620.6 1445.3,626.6 1454.9,633.1 1464.6,638.7 1474.2,644.7 1483.9,648.3 1493.5,650.7 1503.1,652.4" fill="none" stroke="#ff0000" stroke-width="1.1" stroke-dasharray="3 3"/>
<g shape-rendering="crispEdges">
<line x1="0" y1="787.5" x2="1692" y2="787.5" stroke="#c0c0c0" stroke-width="1" stroke-dasharray="3 3"/>
<line x1="0" y1="838.5" x2="1692" y2="838.5" stroke="#c0c0c0" stroke-width="1" stroke-dasharray="3 3"/>
<line x1="0" y1="899.5" x2="1692" y2="899.5" stroke="#c0c0c0" stroke-width="1" stroke-dasharray="3 3"/>
</g>
<polyline points="-0.5,836.3 7.5,834.1 15.5,841.4 23.5,842.7 31.5,851.6 39.5,858.0 47.5,842.5 55.5,845.2 63.5,849.1 71.5,837.8 79.5,849.1 87.5,852.7 95.5,862.3 103.5,859.5 111.5,863.4 119.5,853.8 127.5,845.2 135.5,836.7 143.5,828.6 151.5,820.1 159.5,823.5 167.5,844.2 175.5,851.6 183.5,868.7 191.5,881.1 199.5,871.5 207.5,877.7 215.5,882.1 223.5,894.3 231.5,897.5 239.5,890.0 247.5,886.2 255.5,886.2 263.5,870.2 271.5,866.1 279.5,845.2 287.5,831.4 295.5,832.4 303.5,836.7 311.5,835.6 319.5,836.7 327.5,835.6 335.5,842.0 343.5,845.7 351.5,844.2 359.5,837.1 367.5,834.1 375.5,830.3 383.5,830.3 391.5,826.0 399.5,819.2 407.5,827.7 415.5,831.4 423.5,831.4 431.5,831.4 439.5,835.0 447.5,847.4 455.5,845.2 463.5,842.5 471.5,842.5 479.5,841.4 487.5,835.6 495.5,834.1 503.5,830.3 511.5,819.2 519.5,830.9 527.5,834.1 535.5,836.3 543.5,836.3 551.5,849.5 559.5,843.1 567.5,839.3 575.5,838.2 583.5,847.8 591.5,855.9 599.5,857.4 607.5,857.4 615.5,868.1 623.5,870.4 631.5,852.7 639.5,846.3 647.5,848.0 655.5,849.9 663.5,855.5 671.5,853.3 679.5,850.6 687.5,833.1 695.5,841.4 703.5,835.6 711.5,834.1 719.5,832.0 727.5,817.9 735.5,809.0 743.5,810.5 751.5,808.3 759.5,803.6 767.5,800.4 775.5,799.4 783.5,803.2 791.5,803.2 799.5,826.0 807.5,837.3 815.5,835.0 823.5,822.4 831.5,829.2 839.5,832.9 847.5,846.3 855.5,853.1 863.5,854.4 871.5,836.1 879.5,834.1 887.5,845.2 895.5,844.2 903.5,851.0 911.5,852.3 919.5,854.4 927.5,845.2 935.5,836.3 943.5,836.3 951.5,835.2 959.5,835.2 967.5,832.4 975.5,827.7 983.5,819.2 991.5,820.3 999.5,817.5 1007.5,818.6 1015.5,831.4 1023.5,829.2 1031.5,826.0 1039.5,831.4 1047.5,830.3 1055.5,830.3 1063.5,817.5 1071.5,809.0 1079.5,810.5 1087.5,809.0 1095.5,803.6 1103.5,801.9 1111.5,794.5 1119.5,791.3 1127.5,787.7 1135.5,780.2 1143.5,783.4 1151.5,784.5 1159.5,789.1 1167.5,789.1 1175.5,785.9 1183.5,785.1 1191.5,807.3 1199.5,807.3 1207.5,804.3 1215.5,810.5 1223.5,812.6 1231.5,809.0 1239.5,805.8 1247.5,804.3 1255.5,804.3 1263.5,789.1 1271.5,820.1 1279.5,810.5 1287.5,829.2 1295.5,829.7 1303.5,832.4 1311.5,823.3 1319.5,816.4 1327.5,819.2 1335.5,807.3 1343.5,806.4 1351.5,806.4 1359.5,803.0 1367.5,812.2 1375.5,825.0 1383.5,822.2 1391.5,829.2 1399.5,838.8 1407.5,859.1 1415.5,855.9 1423.5,866.6 1431.5,869.3 1439.5,867.6 1447.5,863.4 1455.5,857.0 1463.5,847.4 1471.5,847.4 1479.5,851.0 1487.5,851.0 1495.5,859.1 1503.5,866.6" fill="none" stroke="#1e90ff" stroke-width="1.0" stroke-linejoin="round" shape-rendering="crispEdges"/>
<line x1="1359.0" y1="57.6" x2="1427.3" y2="221.5" stroke="#ff0000" stroke-width="3" stroke-linecap="butt"/>
<polygon points="1430.0,228.0 1422.7,221.3 1430.4,218.1" fill="#ff0000"/>
<line x1="1430.0" y1="228.0" x2="1475.2" y2="163.8" stroke="#ff0000" stroke-width="3" stroke-linecap="butt"/>
<polygon points="1479.2,158.1 1477.5,167.9 1470.6,163.0" fill="#ff0000"/>
<line x1="1479.2" y1="158.1" x2="1529.8" y2="270.7" stroke="#ff0000" stroke-width="3" stroke-linecap="butt"/>
<polygon points="1532.7,277.1 1525.2,270.6 1532.8,267.2" fill="#ff0000"/>
<line x1="1389.9" y1="600.6" x2="1434.2" y2="641.8" stroke="#ff0000" stroke-width="3" stroke-linecap="butt"/>
<polygon points="1439.3,646.6 1429.9,643.5 1435.6,637.4" fill="#ff0000"/>
<line x1="1439.3" y1="646.6" x2="1535.0" y2="676.8" stroke="#ff0000" stroke-width="3" stroke-linecap="butt"/>
<polygon points="1541.7,678.9 1531.9,680.2 1534.4,672.2" fill="#ff0000"/>
<line x1="1346.4" y1="797.9" x2="1420.2" y2="863.0" stroke="#ff0000" stroke-width="3" stroke-linecap="butt"/>
<polygon points="1425.5,867.6 1416.0,864.8 1421.5,858.5" fill="#ff0000"/>
<line x1="1425.5" y1="867.6" x2="1469.1" y2="849.6" stroke="#ff0000" stroke-width="3" stroke-linecap="butt"/>
<polygon points="1475.6,846.9 1468.9,854.2 1465.7,846.5" fill="#ff0000"/>
<line x1="1475.6" y1="846.9" x2="1522.1" y2="867.9" stroke="#ff0000" stroke-width="3" stroke-linecap="butt"/>
<polygon points="1528.5,870.8 1518.6,870.9 1522.0,863.3" fill="#ff0000"/>
<g shape-rendering="crispEdges">
<rect x="0" y="24" width="1693" height="1" fill="#000" />
<rect x="1692" y="24" width="1" height="902" fill="#000" />
<rect x="0" y="577" width="1693" height="1" fill="#000" />
<rect x="0" y="578" width="1693" height="1" fill="#fff" />
<rect x="0" y="579" width="1693" height="1" fill="#000" />
<rect x="0" y="749" width="1693" height="1" fill="#000" />
<rect x="0" y="750" width="1693" height="1" fill="#fff" />
<rect x="0" y="751" width="1693" height="1" fill="#000" />
<rect x="0" y="925" width="1693" height="1" fill="#000" />
</g>
<g shape-rendering="crispEdges">
<rect x="1693" y="46" width="2" height="1" fill="#000" />
<rect x="1693" y="79" width="2" height="1" fill="#000" />
<rect x="1693" y="112" width="2" height="1" fill="#000" />
<rect x="1693" y="145" width="2" height="1" fill="#000" />
<rect x="1693" y="178" width="2" height="1" fill="#000" />
<rect x="1693" y="211" width="2" height="1" fill="#000" />
<rect x="1693" y="244" width="2" height="1" fill="#000" />
<rect x="1693" y="277" width="2" height="1" fill="#000" />
<rect x="1693" y="310" width="2" height="1" fill="#000" />
<rect x="1693" y="343" width="2" height="1" fill="#000" />
<rect x="1693" y="376" width="2" height="1" fill="#000" />
<rect x="1693" y="409" width="2" height="1" fill="#000" />
<rect x="1693" y="442" width="2" height="1" fill="#000" />
<rect x="1693" y="475" width="2" height="1" fill="#000" />
<rect x="1693" y="508" width="2" height="1" fill="#000" />
<rect x="1693" y="541" width="2" height="1" fill="#000" />
<rect x="1693" y="574" width="2" height="1" fill="#000" />
<rect x="1693" y="581" width="2" height="1" fill="#000" />
<rect x="1693" y="634" width="2" height="1" fill="#000" />
<rect x="1693" y="747" width="2" height="1" fill="#000" />
<rect x="1693" y="753" width="2" height="1" fill="#000" />
<rect x="1693" y="788" width="2" height="1" fill="#000" />
<rect x="1693" y="838" width="2" height="1" fill="#000" />
<rect x="1693" y="899" width="2" height="1" fill="#000" />
<rect x="1693" y="918" width="2" height="1" fill="#000" />
</g>
<text x="1698.5" y="49.6" font-size="9.5" fill="#000" textLength="32" lengthAdjust="spacingAndGlyphs" >1.35040</text>
<text x="1698.5" y="82.6" font-size="9.5" fill="#000" textLength="32" lengthAdjust="spacingAndGlyphs" >1.33680</text>
<text x="1698.5" y="115.6" font-size="9.5" fill="#000" textLength="32" lengthAdjust="spacingAndGlyphs" >1.32360</text>
<text x="1698.5" y="148.6" font-size="9.5" fill="#000" textLength="32" lengthAdjust="spacingAndGlyphs" >1.31000</text>
<text x="1698.5" y="181.6" font-size="9.5" fill="#000" textLength="32" lengthAdjust="spacingAndGlyphs" >1.29680</text>
<text x="1698.5" y="214.6" font-size="9.5" fill="#000" textLength="32" lengthAdjust="spacingAndGlyphs" >1.28360</text>
<text x="1698.5" y="247.6" font-size="9.5" fill="#000" textLength="32" lengthAdjust="spacingAndGlyphs" >1.27000</text>
<text x="1698.5" y="280.6" font-size="9.5" fill="#000" textLength="32" lengthAdjust="spacingAndGlyphs" >1.25680</text>
<text x="1698.5" y="313.6" font-size="9.5" fill="#000" textLength="32" lengthAdjust="spacingAndGlyphs" >1.24360</text>
<text x="1698.5" y="346.6" font-size="9.5" fill="#000" textLength="32" lengthAdjust="spacingAndGlyphs" >1.23000</text>
<text x="1698.5" y="379.6" font-size="9.5" fill="#000" textLength="32" lengthAdjust="spacingAndGlyphs" >1.21680</text>
<text x="1698.5" y="412.6" font-size="9.5" fill="#000" textLength="32" lengthAdjust="spacingAndGlyphs" >1.20320</text>
<text x="1698.5" y="445.6" font-size="9.5" fill="#000" textLength="32" lengthAdjust="spacingAndGlyphs" >1.19000</text>
<text x="1698.5" y="478.6" font-size="9.5" fill="#000" textLength="32" lengthAdjust="spacingAndGlyphs" >1.17680</text>
<text x="1698.5" y="511.6" font-size="9.5" fill="#000" textLength="32" lengthAdjust="spacingAndGlyphs" >1.16320</text>
<text x="1698.5" y="544.6" font-size="9.5" fill="#000" textLength="32" lengthAdjust="spacingAndGlyphs" >1.15000</text>
<text x="1698.5" y="577.6" font-size="9.5" fill="#000" textLength="32" lengthAdjust="spacingAndGlyphs" >1.13680</text>
<g shape-rendering="crispEdges">
<rect x="1694" y="181" width="41" height="11" fill="#ff4500" />
<rect x="1694" y="201" width="41" height="11" fill="#ff0000" />
<rect x="1694" y="219" width="41" height="11" fill="#32cd32" />
<rect x="1694" y="230" width="41" height="11" fill="#000" />
<rect x="1694" y="250" width="41" height="11" fill="#0000ff" />
<rect x="1694" y="262" width="41" height="11" fill="#0000ff" />
</g>
<text x="1698.5" y="190" font-size="9.5" fill="#fff" textLength="32" lengthAdjust="spacingAndGlyphs" >1.29308</text>
<text x="1698.5" y="210" font-size="9.5" fill="#fff" textLength="32" lengthAdjust="spacingAndGlyphs" >1.28501</text>
<text x="1698.5" y="228" font-size="9.5" fill="#fff" textLength="32" lengthAdjust="spacingAndGlyphs" >1.27774</text>
<text x="1698.5" y="239" font-size="9.5" fill="#fff" textLength="32" lengthAdjust="spacingAndGlyphs" >1.27361</text>
<text x="1698.5" y="259" font-size="9.5" fill="#fff" textLength="32" lengthAdjust="spacingAndGlyphs" >1.26522</text>
<text x="1698.5" y="271" font-size="9.5" fill="#fff" textLength="32" lengthAdjust="spacingAndGlyphs" >1.26038</text>
<text x="1696.5" y="590.5" font-size="9.5" fill="#000" textLength="37" lengthAdjust="spacingAndGlyphs" >0.017833</text>
<text x="1696.5" y="638" font-size="9.5" fill="#000" textLength="17" lengthAdjust="spacingAndGlyphs" >0.00</text>
<text x="1696.5" y="746.5" font-size="9.5" fill="#000" textLength="40.5" lengthAdjust="spacingAndGlyphs" >-0.038559</text>
<text x="1696.5" y="762" font-size="9.5" fill="#000" textLength="14.5" lengthAdjust="spacingAndGlyphs" >100</text>
<text x="1696.5" y="790.6" font-size="9.5" fill="#000" textLength="9.5" lengthAdjust="spacingAndGlyphs" >80</text>
<text x="1696.5" y="841.6" font-size="9.5" fill="#000" textLength="9.5" lengthAdjust="spacingAndGlyphs" >50</text>
<text x="1696.5" y="902.4" font-size="9.5" fill="#000" textLength="9.5" lengthAdjust="spacingAndGlyphs" >15</text>
<text x="1696.5" y="921.6" font-size="9.5" fill="#000" >0</text>
<polygon points="2,35.5 9,35.5 5.5,32" fill="#000"/>
<text x="14.3" y="36" font-size="10" fill="#000" textLength="213" lengthAdjust="spacingAndGlyphs" xml:space="preserve">GBPUSD-,Daily  1.28155 1.28659 1.27098 1.27361</text>
<text x="3" y="592" font-size="10" fill="#000" textLength="154" lengthAdjust="spacingAndGlyphs" >MACD(12,26,9) -0.007621 -0.006205</text>
<text x="3" y="763.5" font-size="10" fill="#000" textLength="67" lengthAdjust="spacingAndGlyphs" >RSI(14) 33.5861</text>
<g shape-rendering="crispEdges">
<rect x="63" y="926" width="1" height="3" fill="#000" />
<rect x="127" y="926" width="1" height="3" fill="#000" />
<rect x="191" y="926" width="1" height="3" fill="#000" />
<rect x="255" y="926" width="1" height="3" fill="#000" />
<rect x="319" y="926" width="1" height="3" fill="#000" />
<rect x="383" y="926" width="1" height="3" fill="#000" />
<rect x="447" y="926" width="1" height="3" fill="#000" />
<rect x="511" y="926" width="1" height="3" fill="#000" />
<rect x="575" y="926" width="1" height="3" fill="#000" />
<rect x="639" y="926" width="1" height="3" fill="#000" />
<rect x="703" y="926" width="1" height="3" fill="#000" />
<rect x="767" y="926" width="1" height="3" fill="#000" />
<rect x="831" y="926" width="1" height="3" fill="#000" />
<rect x="895" y="926" width="1" height="3" fill="#000" />
<rect x="959" y="926" width="1" height="3" fill="#000" />
<rect x="1023" y="926" width="1" height="3" fill="#000" />
<rect x="1087" y="926" width="1" height="3" fill="#000" />
<rect x="1151" y="926" width="1" height="3" fill="#000" />
<rect x="1215" y="926" width="1" height="3" fill="#000" />
<rect x="1279" y="926" width="1" height="3" fill="#000" />
<rect x="1343" y="926" width="1" height="3" fill="#000" />
<rect x="1407" y="926" width="1" height="3" fill="#000" />
<rect x="1471" y="926" width="1" height="3" fill="#000" />
</g>
<text x="-1.5" y="937.7" font-size="10" fill="#000" textLength="51" lengthAdjust="spacingAndGlyphs" >14 Feb 2020</text>
<text x="62" y="937.7" font-size="10" fill="#000" textLength="52.2" lengthAdjust="spacingAndGlyphs" >24 Feb 2020</text>
<text x="126" y="937.7" font-size="10" fill="#000" textLength="47.0" lengthAdjust="spacingAndGlyphs" >4 Mar 2020</text>
<text x="190" y="937.7" font-size="10" fill="#000" textLength="52.2" lengthAdjust="spacingAndGlyphs" >13 Mar 2020</text>
<text x="254" y="937.7" font-size="10" fill="#000" textLength="52.2" lengthAdjust="spacingAndGlyphs" >23 Mar 2020</text>
<text x="318" y="937.7" font-size="10" fill="#000" textLength="45.0" lengthAdjust="spacingAndGlyphs" >1 Apr 2020</text>
<text x="382" y="937.7" font-size="10" fill="#000" textLength="50.2" lengthAdjust="spacingAndGlyphs" >12 Apr 2020</text>
<text x="446" y="937.7" font-size="10" fill="#000" textLength="50.2" lengthAdjust="spacingAndGlyphs" >21 Apr 2020</text>
<text x="510" y="937.7" font-size="10" fill="#000" textLength="50.2" lengthAdjust="spacingAndGlyphs" >30 Apr 2020</text>
<text x="574" y="937.7" font-size="10" fill="#000" textLength="53.8" lengthAdjust="spacingAndGlyphs" >10 May 2020</text>
<text x="638" y="937.7" font-size="10" fill="#000" textLength="53.8" lengthAdjust="spacingAndGlyphs" >19 May 2020</text>
<text x="702" y="937.7" font-size="10" fill="#000" textLength="53.8" lengthAdjust="spacingAndGlyphs" >28 May 2020</text>
<text x="766" y="937.7" font-size="10" fill="#000" textLength="46.0" lengthAdjust="spacingAndGlyphs" >7 Jun 2020</text>
<text x="830" y="937.7" font-size="10" fill="#000" textLength="51.2" lengthAdjust="spacingAndGlyphs" >16 Jun 2020</text>
<text x="894" y="937.7" font-size="10" fill="#000" textLength="51.2" lengthAdjust="spacingAndGlyphs" >25 Jun 2020</text>
<text x="958" y="937.7" font-size="10" fill="#000" textLength="42.9" lengthAdjust="spacingAndGlyphs" >5 Jul 2020</text>
<text x="1022" y="937.7" font-size="10" fill="#000" textLength="48.1" lengthAdjust="spacingAndGlyphs" >14 Jul 2020</text>
<text x="1086" y="937.7" font-size="10" fill="#000" textLength="48.1" lengthAdjust="spacingAndGlyphs" >23 Jul 2020</text>
<text x="1150" y="937.7" font-size="10" fill="#000" textLength="47.1" lengthAdjust="spacingAndGlyphs" >2 Aug 2020</text>
<text x="1214" y="937.7" font-size="10" fill="#000" textLength="51.5" lengthAdjust="spacingAndGlyphs" >11 Aug 2020</text>
<text x="1278" y="937.7" font-size="10" fill="#000" textLength="52.2" lengthAdjust="spacingAndGlyphs" >20 Aug 2020</text>
<text x="1342" y="937.7" font-size="10" fill="#000" textLength="52.2" lengthAdjust="spacingAndGlyphs" >30 Aug 2020</text>
<text x="1406" y="937.7" font-size="10" fill="#000" textLength="47.6" lengthAdjust="spacingAndGlyphs" >8 Sep 2020</text>
<text x="1470" y="937.7" font-size="10" fill="#000" textLength="52.7" lengthAdjust="spacingAndGlyphs" >17 Sep 2020</text>
<polygon points="1516.6,25 1526.4,25 1521.5,30.2" fill="#c0c0c0"/>
<rect x="0" y="945" width="1739" height="1" fill="#f8f8f8" />
<rect x="0" y="946" width="1739" height="1" fill="#ececec" />
<rect x="1738" y="22" width="1" height="923" fill="#e0e0e0" />

<g shape-rendering="crispEdges">
<path d="M2,44 H54 V68 H111 V108 H2 Z" fill="url(#gb)" stroke="none"/>
<path d="M113,68 H170 V44 H221 V108 H113 Z" fill="url(#gb)" stroke="none"/>
<rect x="6" y="67" width="44" height="1" fill="#1c1cb4" />
<rect x="6" y="68" width="44" height="1" fill="#8a8aff" />
<rect x="173" y="67" width="44" height="1" fill="#1c1cb4" />
<rect x="173" y="68" width="44" height="1" fill="#8a8aff" />
<rect x="56" y="44" width="111" height="22" fill="#a8a8a8" />
<rect x="57" y="45" width="109" height="20" fill="#fff" />
<rect x="58" y="46" width="19" height="18" fill="url(#gbtn)" />
<rect x="147" y="46" width="18" height="18" fill="url(#gbtn)" />
<rect x="77" y="45" width="1" height="20" fill="#b0b0b0" />
<rect x="146" y="45" width="1" height="20" fill="#b0b0b0" />
</g>
<polygon points="64.5,53.5 70.5,53.5 67.5,57" fill="#4a5a9a"/>
<polygon points="153,57 159,57 156,53.5" fill="#4a5a9a"/>
<text x="141.5" y="59.5" font-size="11.5" fill="#222" text-anchor="end" >1.00</text>
<text x="27" y="60" font-size="11.5" fill="#fff" text-anchor="middle" textLength="25.5" lengthAdjust="spacingAndGlyphs" >SELL</text>
<text x="194.3" y="60" font-size="11.5" fill="#fff" text-anchor="middle" textLength="23" lengthAdjust="spacingAndGlyphs" >BUY</text>
<text x="22.5" y="98.7" font-size="11" fill="#fff" textLength="23" lengthAdjust="spacingAndGlyphs" font-weight="bold" >1.27</text>
<text x="50.8" y="98.8" font-size="34" fill="#fff" textLength="33.4" lengthAdjust="spacingAndGlyphs" stroke="url(#gbu)" stroke-width="0.7">36</text>
<text x="90" y="82.8" font-size="12" fill="#fff" font-weight="bold" >1</text>
<text x="133" y="98.7" font-size="11" fill="#fff" textLength="23" lengthAdjust="spacingAndGlyphs" font-weight="bold" >1.27</text>
<text x="161.3" y="98.8" font-size="34" fill="#fff" textLength="33.4" lengthAdjust="spacingAndGlyphs" stroke="url(#gbu)" stroke-width="0.7">39</text>
<text x="201" y="82.8" font-size="12" fill="#fff" font-weight="bold" >1</text>
<rect x="0" y="0" width="1739" height="20" fill="#f0f0f0" shape-rendering="crispEdges"/>
<rect x="0" y="20" width="1739" height="1" fill="#a0a0a0" shape-rendering="crispEdges"/>
<rect x="0" y="21" width="1739" height="1" fill="#696969" shape-rendering="crispEdges"/>
<defs>
<linearGradient id="gold" x1="0" y1="0" x2="1" y2="1"><stop offset="0" stop-color="#fff080"/><stop offset="0.5" stop-color="#f0c000"/><stop offset="1" stop-color="#b07800"/></linearGradient>
<linearGradient id="bluev" x1="0" y1="0" x2="0" y2="1"><stop offset="0" stop-color="#58a8f0"/><stop offset="1" stop-color="#1450b8"/></linearGradient>
<radialGradient id="lens" cx="0.4" cy="0.35" r="0.7"><stop offset="0" stop-color="#ffffff"/><stop offset="1" stop-color="#b8d4f0"/></radialGradient>
<linearGradient id="grn" x1="0" y1="0" x2="0" y2="1"><stop offset="0" stop-color="#58e058"/><stop offset="1" stop-color="#10a010"/></linearGradient>
<linearGradient id="bub" x1="0" y1="0" x2="0" y2="1"><stop offset="0" stop-color="#ffffff"/><stop offset="0.55" stop-color="#f4f4f6"/><stop offset="1" stop-color="#c8cad4"/></linearGradient>
</defs>
<rect x="0.5" y="1.5" width="15" height="13" rx="1" fill="#fff" stroke="#2a7fd4" stroke-width="1.2"/>
<rect x="0" y="2" width="4" height="12" fill="url(#bluev)" />
<rect x="7" y="3.7" width="8" height="0.7" fill="#b8d0f0" />
<rect x="7" y="5.7" width="8" height="0.7" fill="#b8d0f0" />
<rect x="7" y="7.7" width="8" height="0.7" fill="#b8d0f0" />
<rect x="7" y="9.7" width="8" height="0.7" fill="#b8d0f0" />
<rect x="7" y="11.7" width="8" height="0.7" fill="#b8d0f0" />
<circle cx="5.4" cy="3.6" r="0.8" fill="#e02020"/>
<circle cx="5.4" cy="5.6" r="0.8" fill="#202020"/>
<circle cx="5.4" cy="7.6" r="0.8" fill="#202020"/>
<circle cx="5.4" cy="9.6" r="0.8" fill="#e02020"/>
<rect x="28.7" y="1" width="11.5" height="12.3" fill="#f4f4f4" stroke="#a0a0a0" stroke-width="0.9"/>
<path d="M31.5,3 v7 M30.3,5 h1.2 M34.5,2.5 v6 M34.5,4 h1.3 M37.5,3.5 v5" stroke="#888" stroke-width="0.9" fill="none"/>
<line x1="40" y1="12.8" x2="44.6" y2="16.6" stroke="#b08400" stroke-width="2.4" stroke-linecap="round"/>
<circle cx="36.7" cy="9.4" r="4.6" fill="#cfe0f4" fill-opacity="0.85" stroke="#5a90d8" stroke-width="1.1"/>
<path d="M35.8,7 v5 M37.5,7.5 v4" stroke="#8aa0c0" stroke-width="1.2"/>
<rect x="53" y="1" width="1" height="17" fill="#a0a0a0" shape-rendering="crispEdges"/>
<rect x="54" y="1" width="1" height="17" fill="#ffffff" shape-rendering="crispEdges"/>
<path d="M63.6,0.6 h7.5 l3.5,3.5 v9.3 h-11 z" fill="#fdfdfd" stroke="#808080" stroke-width="0.9"/>
<path d="M71.1,0.6 v3.5 h3.5" fill="#e0e0e0" stroke="#808080" stroke-width="0.7"/>
<path d="M65.5,3.5 h3 M65.5,6 h5 M65.5,8.3 h5 M65.5,10.6 h2.5" stroke="#909090" stroke-width="0.9"/>
<path d="M71.4,6.5 h3 v4.1 h4.1 v3 h-4.1 v4.1 h-3 v-4.1 h-4.1 v-3 h4.1 z" fill="url(#grn)" stroke="#0a8a0a" stroke-width="0.7"/>
<text x="82.4" y="11.2" font-size="12" fill="#000" textLength="35" lengthAdjust="spacingAndGlyphs" style="font-family:'Liberation Sans','Noto Sans CJK SC',sans-serif;">新订单</text>
<path d="M130.4,10 L131.2,11.8 L139.2,16.2 L146,9.8 L145.6,8.3 L138.8,14.4 Z" fill="#b87818" stroke="#9a6408" stroke-width="0.5"/>
<path d="M135.9,1.2 L145.6,8.3 L138.8,14.4 L130.4,9.8 Q130.8,7 133,5.2 Q134.6,3.2 135.9,1.2 Z" fill="url(#gold)" stroke="#a87000" stroke-width="0.8" stroke-linejoin="round"/>
<path d="M134.6,3.4 L143.2,9.4" stroke="#fff4a0" stroke-width="0.9" stroke-opacity="0.7" fill="none"/>
<path d="M160.2,0 h11.6 v8.4 h-11.6 z" fill="#1a78e8"/>
<path d="M160.2,0 h3.3 v8.4 h-3.3 z" fill="#58b0ff"/>
<path d="M165.6,3.2 l4.6,-0.8 v1.3 l-4.6,0.8 z" fill="#e8f4ff"/>
<path d="M161.2,15.6 a3.2,3.2 0 0 1 0.4,-6.2 a3.6,3.6 0 0 1 6.6,-0.9 a2.6,2.6 0 0 1 3.4,1.7 a2.8,2.8 0 0 1 -0.6,5.4 z" fill="#f6f8fc" stroke="#6080b8" stroke-width="0.9"/>
<path d="M160,14.6 q5,1.4 12.4,0" stroke="#c0cce0" stroke-width="1" fill="none"/>
<circle cx="194" cy="7.9" r="4.7" fill="none" stroke="#7898e0" stroke-width="0.9"/>
<circle cx="194" cy="7.9" r="7.6" fill="none" stroke="#98b0e8" stroke-width="0.9"/>
<path d="M194.3,7.9 L194.3,15.6 A7.7,7.7 0 0 0 201.7,7.4 Z" fill="#78c070" fill-opacity="0.75"/>
<path d="M194.6,0.4 A7.6,7.6 0 0 1 201.6,7.9 M194.6,3.3 A4.7,4.7 0 0 1 198.7,7.9" fill="none" stroke="#a8d0a8" stroke-width="0.9"/>
<line x1="194.3" y1="8" x2="194.3" y2="15.6" stroke="#20a020" stroke-width="1.3"/>
<circle cx="194" cy="7.6" r="1.9" fill="#2860d8"/>
<path d="M213.8,7 L220.6,15.8 L228.6,7 Z" fill="#ffd848" stroke="#d8a810" stroke-width="0.7"/>
<ellipse cx="221.2" cy="4.9" rx="7.8" ry="2.4" fill="#58a8e4" stroke="#3088cc" stroke-width="0.6"/>
<path d="M218,4.4 Q218.4,-0.4 221.2,-0.6 Q224,-0.4 224.4,4.4 Z" fill="#68b4ec" stroke="#3088cc" stroke-width="0.6"/>
<circle cx="225.6" cy="11.7" r="4.1" fill="#d82418"/>
<rect x="224.3" y="10.4" width="2.6" height="2.6" fill="#fff" />
<text x="236.6" y="11.2" font-size="12" fill="#000" textLength="44.2" lengthAdjust="spacingAndGlyphs" style="font-family:'Liberation Sans','Noto Sans CJK SC',sans-serif;">自动交易</text>
<rect x="289" y="1" width="1" height="17" fill="#a0a0a0" shape-rendering="crispEdges"/>
<rect x="290" y="1" width="1" height="17" fill="#ffffff" shape-rendering="crispEdges"/>
<rect x="293" y="1" width="3" height="1" fill="#b4b4b4" shape-rendering="crispEdges"/>
<rect x="293" y="3" width="3" height="1" fill="#b4b4b4" shape-rendering="crispEdges"/>
<rect x="293" y="5" width="3" height="1" fill="#b4b4b4" shape-rendering="crispEdges"/>
<rect x="293" y="7" width="3" height="1" fill="#b4b4b4" shape-rendering="crispEdges"/>
<rect x="293" y="9" width="3" height="1" fill="#b4b4b4" shape-rendering="crispEdges"/>
<rect x="293" y="11" width="3" height="1" fill="#b4b4b4" shape-rendering="crispEdges"/>
<rect x="293" y="13" width="3" height="1" fill="#b4b4b4" shape-rendering="crispEdges"/>
<rect x="293" y="15" width="3" height="1" fill="#b4b4b4" shape-rendering="crispEdges"/>
<rect x="293" y="17" width="3" height="1" fill="#b4b4b4" shape-rendering="crispEdges"/>
<path d="M307.5,2.6 V16 M304.9,13.6 H318.1" stroke="#505050" stroke-width="1.3" fill="none"/>
<polygon points="307.5,1.6 305.7,4.2 309.3,4.2" fill="#505050"/>
<polygon points="319.3,13.6 316.7,11.8 316.7,15.4" fill="#505050"/>
<path d="M313.5,4 V11 M313.5,4.2 h2.6 M311.2,10.8 h2.3" stroke="#109010" stroke-width="1.4" fill="none"/>
<rect x="328" y="0" width="24" height="18" fill="#f9f9f9" shape-rendering="crispEdges"/>
<rect x="327" y="0" width="1" height="18" fill="#a8a8a8" shape-rendering="crispEdges"/>
<path d="M335.5,2.6 V16 M332.9,13.6 H346.1" stroke="#505050" stroke-width="1.3" fill="none"/>
<polygon points="335.5,1.6 333.7,4.2 337.3,4.2" fill="#505050"/>
<polygon points="347.3,13.6 344.7,11.8 344.7,15.4" fill="#505050"/>
<line x1="341.6" y1="0" x2="341.6" y2="11.6" stroke="#108010" stroke-width="1.3"/>
<rect x="339.4" y="2.8" width="4.4" height="6.6" fill="#40e040" stroke="#108010" stroke-width="0.9"/>
<path d="M363.6,2.6 V16 M361.0,13.6 H374.20000000000005" stroke="#505050" stroke-width="1.3" fill="none"/>
<polygon points="363.6,1.6 361.8,4.2 365.40000000000003,4.2" fill="#505050"/>
<polygon points="375.40000000000003,13.6 372.8,11.8 372.8,15.4" fill="#505050"/>
<path d="M362.3,10.8 Q365.5,5.4 368.3,5.3 Q370.8,5.6 374,9" stroke="#209020" stroke-width="1.3" fill="none"/>
<rect x="384" y="1" width="1" height="17" fill="#a0a0a0" shape-rendering="crispEdges"/>
<rect x="385" y="1" width="1" height="17" fill="#ffffff" shape-rendering="crispEdges"/>
<line x1="402.70000000000005" y1="9.5" x2="408.1" y2="14.5" stroke="#b08400" stroke-width="3.2" stroke-linecap="round"/>
<line x1="403.1" y1="9.600000000000001" x2="407.90000000000003" y2="14.1" stroke="#f0d040" stroke-width="1.6" stroke-linecap="round"/>
<circle cx="399.1" cy="5.9" r="5.2" fill="url(#lens)" stroke="#3a78d0" stroke-width="1.2"/>
<path d="M396.1,5.9 h6 M399.1,2.9000000000000004 v6" stroke="#4a80c8" stroke-width="1.6"/>
<line x1="430.6" y1="9.5" x2="436" y2="14.5" stroke="#b08400" stroke-width="3.2" stroke-linecap="round"/>
<line x1="431" y1="9.600000000000001" x2="435.8" y2="14.1" stroke="#f0d040" stroke-width="1.6" stroke-linecap="round"/>
<circle cx="427" cy="5.9" r="5.2" fill="url(#lens)" stroke="#3a78d0" stroke-width="1.2"/>
<path d="M424,5.9 h6" stroke="#4a80c8" stroke-width="1.6"/>
<rect x="449" y="0" width="7.8" height="7.8" rx="0.8" fill="#4aa020"/>
<rect x="450.2" y="3" width="5.4" height="3.6" fill="#fff"/>
<path d="M451.2,4.8 h3.4" stroke="#4aa020" stroke-width="0.8"/>
<rect x="457.3" y="0" width="7.8" height="7.8" rx="0.8" fill="#2458d8"/>
<rect x="458.5" y="3" width="5.4" height="3.6" fill="#fff"/>
<path d="M459.5,4.8 h3.4" stroke="#2458d8" stroke-width="0.8"/>
<rect x="449" y="8.2" width="7.8" height="7.8" rx="0.8" fill="#2458d8"/>
<rect x="450.2" y="11.2" width="5.4" height="3.6" fill="#fff"/>
<path d="M451.2,13.0 h3.4" stroke="#2458d8" stroke-width="0.8"/>
<rect x="457.3" y="8.2" width="7.8" height="7.8" rx="0.8" fill="#4aa020"/>
<rect x="458.5" y="11.2" width="5.4" height="3.6" fill="#fff"/>
<path d="M459.5,13.0 h3.4" stroke="#4aa020" stroke-width="0.8"/>
<rect x="474" y="1" width="1" height="17" fill="#a0a0a0" shape-rendering="crispEdges"/>
<rect x="475" y="1" width="1" height="17" fill="#ffffff" shape-rendering="crispEdges"/>
<rect x="480" y="0" width="24" height="18" fill="#f9f9f9" shape-rendering="crispEdges"/>
<rect x="479" y="0" width="1" height="18" fill="#a8a8a8" shape-rendering="crispEdges"/>
<path d="M487.5,2.6 V16 M484.9,13.6 H498.1" stroke="#505050" stroke-width="1.3" fill="none"/>
<polygon points="487.5,1.6 485.7,4.2 489.3,4.2" fill="#505050"/>
<polygon points="499.3,13.6 496.7,11.8 496.7,15.4" fill="#505050"/>
<polygon points="492.6,4.8 496,7.8 492.6,10.8" fill="#90e090" stroke="#20a020" stroke-width="1"/>
<rect x="508" y="0" width="24" height="18" fill="#f9f9f9" shape-rendering="crispEdges"/>
<rect x="507" y="0" width="1" height="18" fill="#a8a8a8" shape-rendering="crispEdges"/>
<path d="M515.5,2.6 V16 M512.9,13.6 H526.1" stroke="#505050" stroke-width="1.3" fill="none"/>
<polygon points="515.5,1.6 513.7,4.2 517.3,4.2" fill="#505050"/>
<polygon points="527.3,13.6 524.7,11.8 524.7,15.4" fill="#505050"/>
<line x1="521.5" y1="2.2" x2="521.5" y2="11.6" stroke="#2080c0" stroke-width="1.3"/>
<path d="M527,7.6 H523.4" stroke="#e04000" stroke-width="1.2"/><polygon points="522.3,7.6 525.2,5.6 524.6,7.6 525.2,9.6" fill="#e04000"/>
<rect x="536" y="1" width="1" height="17" fill="#a0a0a0" shape-rendering="crispEdges"/>
<rect x="537" y="1" width="1" height="17" fill="#ffffff" shape-rendering="crispEdges"/>
<path d="M546.8,0.6 h7.5 l3.5,3.5 v9.3 h-11 z" fill="#fdfdfd" stroke="#808080" stroke-width="0.9"/>
<path d="M554.3,0.6 v3.5 h3.5" fill="#e0e0e0" stroke="#808080" stroke-width="0.7"/>
<path d="M551.6,3.2 h-2 v7.4 h2 M549.6,6.6 h2.2" stroke="#606060" stroke-width="0.9" fill="none"/>
<path d="M554.5,6.5 h3 v4.1 h4.1 v3 h-4.1 v4.1 h-3 v-4.1 h-4.1 v-3 h4.1 z" fill="url(#grn)" stroke="#0a8a0a" stroke-width="0.7"/>
<polygon points="568,7.3 573.4,7.3 570.7,10.3" fill="#000"/>
<circle cx="592.1" cy="7.9" r="7.8" fill="url(#bluev)" stroke="#1048a8" stroke-width="0.6"/>
<circle cx="592.1" cy="7.9" r="5.4" fill="#fff"/>
<path d="M592.1,4.2 V8 H595" stroke="#202020" stroke-width="1.1" fill="none"/>
<polygon points="607,7.3 612.4,7.3 609.7,10.3" fill="#000"/>
<rect x="623.4" y="1.3" width="15.4" height="13.4" rx="0.8" fill="#fff" stroke="#3a78d0" stroke-width="1.1"/>
<rect x="624" y="1.8" width="14.2" height="2" fill="#7ab0f0" />
<line x1="624" y1="8.7" x2="638.2" y2="8.7" stroke="#3a78d0" stroke-width="0.9"/>
<path d="M625.2,7.2 l2,-0.2 l2.4,-1.4 l2,0.8 l2.4,-0.2 l2.6,-1.4" stroke="#a02000" stroke-width="1.1" fill="none"/>
<path d="M626,12.4 l2.4,-0.6 l2,0.4 l3,-2 l2.8,2.2" stroke="#109010" stroke-width="1.1" fill="none"/>
<polygon points="645.8,7.3 651.1999999999999,7.3 648.5,10.3" fill="#000"/>
<rect x="657" y="1" width="1" height="17" fill="#a0a0a0" shape-rendering="crispEdges"/>
<rect x="658" y="1" width="1" height="17" fill="#ffffff" shape-rendering="crispEdges"/>
<rect x="661" y="1" width="3" height="1" fill="#b4b4b4" shape-rendering="crispEdges"/>
<rect x="661" y="3" width="3" height="1" fill="#b4b4b4" shape-rendering="crispEdges"/>
<rect x="661" y="5" width="3" height="1" fill="#b4b4b4" shape-rendering="crispEdges"/>
<rect x="661" y="7" width="3" height="1" fill="#b4b4b4" shape-rendering="crispEdges"/>
<rect x="661" y="9" width="3" height="1" fill="#b4b4b4" shape-rendering="crispEdges"/>
<rect x="661" y="11" width="3" height="1" fill="#b4b4b4" shape-rendering="crispEdges"/>
<rect x="661" y="13" width="3" height="1" fill="#b4b4b4" shape-rendering="crispEdges"/>
<rect x="661" y="15" width="3" height="1" fill="#b4b4b4" shape-rendering="crispEdges"/>
<rect x="661" y="17" width="3" height="1" fill="#b4b4b4" shape-rendering="crispEdges"/>
<rect x="668" y="0" width="24" height="18" fill="#f9f9f9" shape-rendering="crispEdges"/>
<rect x="667" y="0" width="1" height="18" fill="#a8a8a8" shape-rendering="crispEdges"/>
<path d="M675,1.3 L675,13 L677.8,10.4 L680,15 L682,14 L679.9,9.6 L683.4,9.2 Z" fill="#505050"/>
<path d="M700,8.4 h6 M709,8.4 h6 M707.5,1 v6 M707.5,10 v6" stroke="#505050" stroke-width="1.2"/>
<rect x="707" y="8" width="1" height="1" fill="#505050"/>
<rect x="724" y="1" width="1" height="17" fill="#a0a0a0" shape-rendering="crispEdges"/>
<rect x="725" y="1" width="1" height="17" fill="#ffffff" shape-rendering="crispEdges"/>
<line x1="741.4" y1="2.2" x2="741.4" y2="15.1" stroke="#505050" stroke-width="1.3"/>
<line x1="764" y1="8.4" x2="776.1" y2="8.4" stroke="#505050" stroke-width="1.3"/>
<line x1="791.9" y1="15.1" x2="804" y2="3" stroke="#505050" stroke-width="1.2"/>
<path d="M818.2,9.6 L826,2.2 M823.4,14.7 L832,6.5 M819.6,13.4 L821.4,7.6 L823.8,11.2 L825.6,5.6 L828,9 L829.8,0.4 L831,6" stroke="#505050" stroke-width="1" fill="none"/>
<text x="829" y="16.8" font-size="6.5" fill="#303030" font-weight="bold" >E</text>
<line x1="847" y1="1.4" x2="860" y2="1.4" stroke="#505050" stroke-width="1" stroke-dasharray="1 1"/>
<line x1="847" y1="4.4" x2="860" y2="4.4" stroke="#505050" stroke-width="1" stroke-dasharray="1 1"/>
<line x1="847" y1="8.4" x2="860" y2="8.4" stroke="#505050" stroke-width="1" stroke-dasharray="1 1"/>
<line x1="847" y1="12.7" x2="856" y2="12.7" stroke="#505050" stroke-width="1" stroke-dasharray="1 1"/>
<text x="857" y="16.8" font-size="6.5" fill="#303030" font-weight="bold" >F</text>
<text x="877.4" y="12.9" font-size="12.5" fill="#505050" >A</text>
<rect x="904.3" y="2" width="11.4" height="12.6" fill="none" stroke="#505050" stroke-width="1" stroke-dasharray="1 1"/>
<path d="M906,5 h8.2 M910.1,5 v7.6" stroke="#505050" stroke-width="1.5" fill="none"/>
<polygon points="934.9,1.6 938,4.4 934.9,7.2 931.8,4.4" fill="#505050"/><polygon points="941.8,8.8 944.9,11.6 941.8,14.4 938.7,11.6" fill="#505050"/>
<path d="M933.4,10 L935.8,12.2 L939.6,6.8" stroke="#505050" stroke-width="1.1" fill="none"/>
<polygon points="951.7,7.3 957.1,7.3 954.4000000000001,10.3" fill="#000"/>
<rect x="963" y="1" width="1" height="17" fill="#a0a0a0" shape-rendering="crispEdges"/>
<rect x="964" y="1" width="1" height="17" fill="#ffffff" shape-rendering="crispEdges"/>
<rect x="967" y="1" width="3" height="1" fill="#b4b4b4" shape-rendering="crispEdges"/>
<rect x="967" y="3" width="3" height="1" fill="#b4b4b4" shape-rendering="crispEdges"/>
<rect x="967" y="5" width="3" height="1" fill="#b4b4b4" shape-rendering="crispEdges"/>
<rect x="967" y="7" width="3" height="1" fill="#b4b4b4" shape-rendering="crispEdges"/>
<rect x="967" y="9" width="3" height="1" fill="#b4b4b4" shape-rendering="crispEdges"/>
<rect x="967" y="11" width="3" height="1" fill="#b4b4b4" shape-rendering="crispEdges"/>
<rect x="967" y="13" width="3" height="1" fill="#b4b4b4" shape-rendering="crispEdges"/>
<rect x="967" y="15" width="3" height="1" fill="#b4b4b4" shape-rendering="crispEdges"/>
<rect x="967" y="17" width="3" height="1" fill="#b4b4b4" shape-rendering="crispEdges"/>
<rect x="1142" y="0" width="24" height="18" fill="#f9f9f9" shape-rendering="crispEdges"/>
<rect x="1141" y="0" width="1" height="18" fill="#a8a8a8" shape-rendering="crispEdges"/>
<text x="985" y="11.7" font-size="9" fill="#404040" text-anchor="middle" >M1</text>
<text x="1013" y="11.7" font-size="9" fill="#404040" text-anchor="middle" >M5</text>
<text x="1041.5" y="11.7" font-size="9" fill="#404040" text-anchor="middle" >M15</text>
<text x="1069.5" y="11.7" font-size="9" fill="#404040" text-anchor="middle" >M30</text>
<text x="1097.3" y="11.7" font-size="9" fill="#404040" text-anchor="middle" >H1</text>
<text x="1124.7" y="11.7" font-size="9" fill="#404040" text-anchor="middle" >H4</text>
<text x="1153.5" y="11.7" font-size="9" fill="#404040" text-anchor="middle" >D1</text>
<text x="1182" y="11.7" font-size="9" fill="#404040" text-anchor="middle" >W1</text>
<text x="1209" y="11.7" font-size="9" fill="#404040" text-anchor="middle" >MN</text>
<rect x="1224" y="1" width="1" height="17" fill="#a0a0a0" shape-rendering="crispEdges"/>
<rect x="1225" y="1" width="1" height="17" fill="#ffffff" shape-rendering="crispEdges"/>
<line x1="1691.6" y1="8.4" x2="1686.8" y2="13" stroke="#2a5ad8" stroke-width="2.6" stroke-linecap="round"/>
<circle cx="1694.5" cy="5.7" r="3.8" fill="#f4f4f4" stroke="#2a5ad8" stroke-width="1.3"/>
<path d="M1727.4,-1 a6.2,5.6 0 1 1 -0.1,0 z M1729.5,9.8 l0.8,2 l-2.4,-1.8" fill="url(#bub)" stroke="#989898" stroke-width="0.9"/>
<path d="M1718.3,5.2 a4.8,4.2 0 1 1 -0.1,0 z M1716.6,13.2 l-1,1.6 l2.6,-1.4" fill="url(#bub)" stroke="#989898" stroke-width="0.9"/>
</svg>
</body></html>
